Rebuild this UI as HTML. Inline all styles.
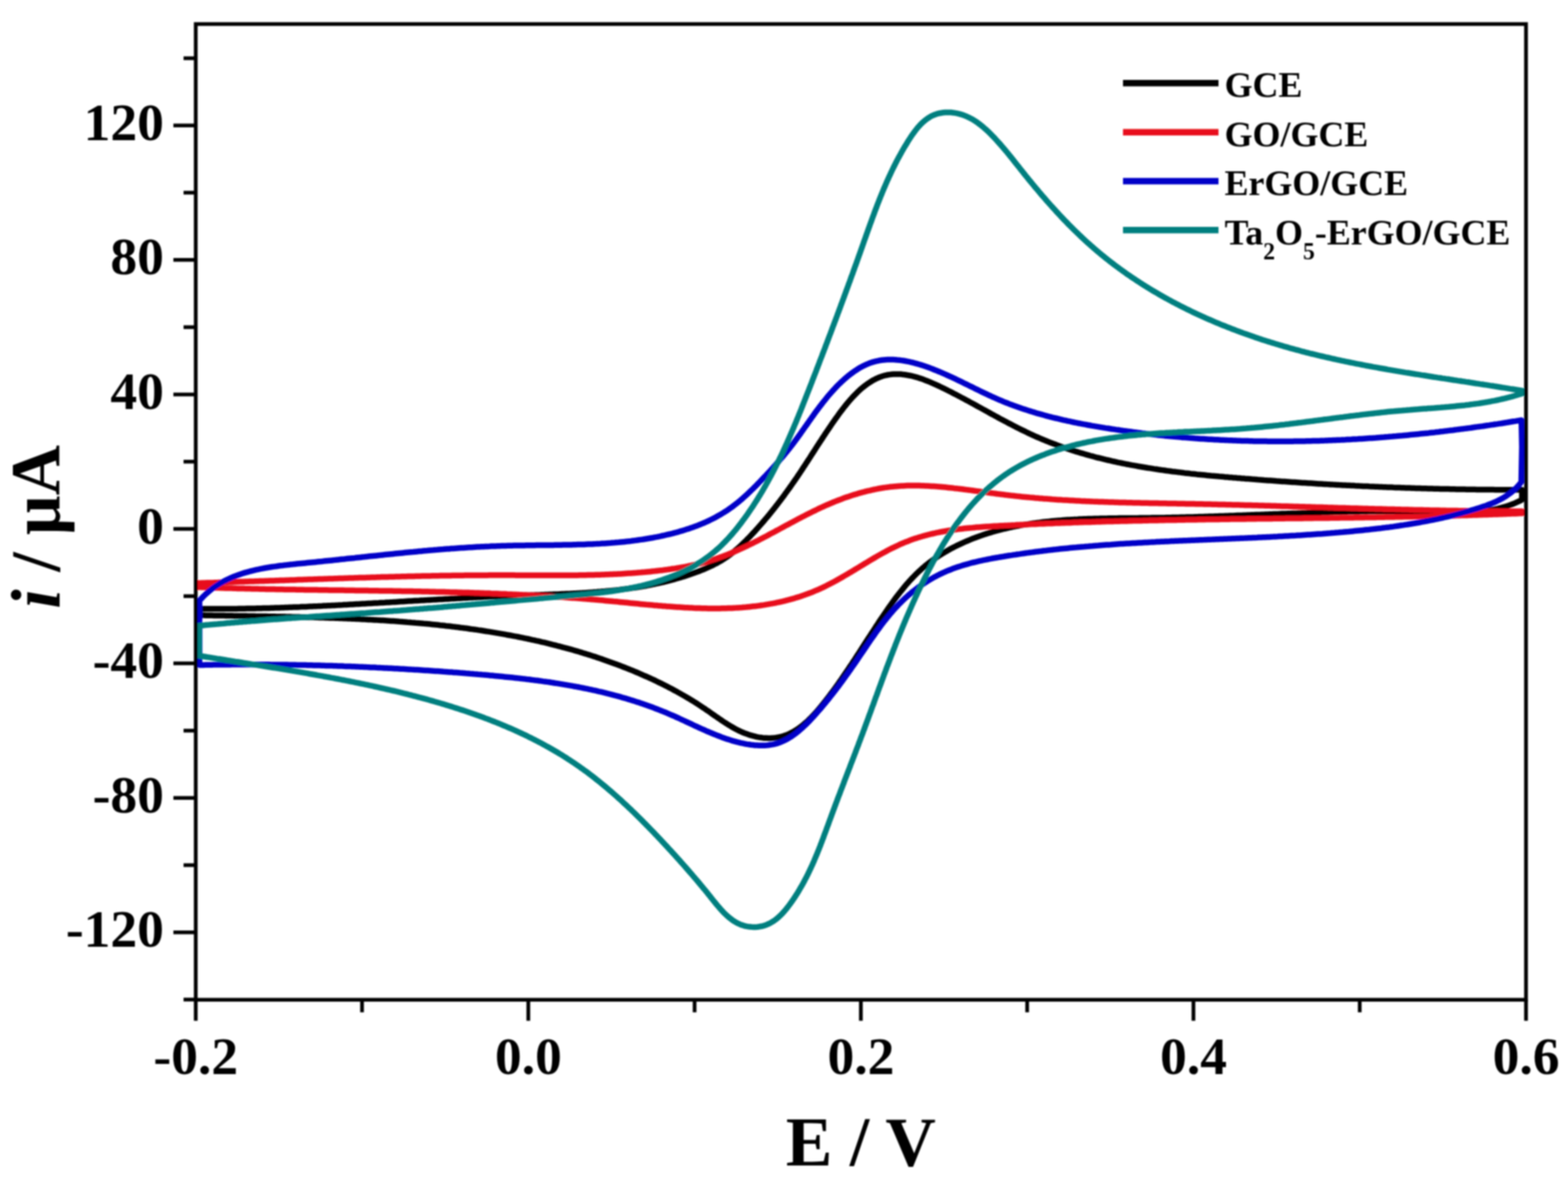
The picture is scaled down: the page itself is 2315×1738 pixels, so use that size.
<!DOCTYPE html>
<html><head><meta charset="utf-8"><title>CV plot</title>
<style>html,body{margin:0;padding:0;background:#fff;}body{width:2315px;height:1738px;overflow:hidden;}svg{display:block;}</style></head><body>
<svg width="2315" height="1738" viewBox="0 0 2315 1738">
<defs><filter id="bl" x="-2%%" y="-2%%" width="104%%" height="104%%"><feGaussianBlur stdDeviation="0.8"/></filter></defs>
<rect width="2315" height="1738" fill="#ffffff"/>
<g filter="url(#bl)">
<g fill="none" stroke-width="8.5" stroke-linejoin="round" stroke-linecap="round">
<path stroke="#000000" d="M295 908.5L295 899L298 899L301.1 899L304.1 899.1L307.1 899.1L310.1 899.1L313.2 899.1L316.2 899.1L319.2 899.1L322.2 899.1L325.3 899.1L328.3 899.1L331.3 899L334.3 899L337.3 899L340.4 899L343.4 898.9L346.4 898.9L349.4 898.9L352.4 898.8L355.4 898.8L358.4 898.7L361.4 898.7L364.5 898.6L367.5 898.6L370.5 898.5L373.5 898.5L376.5 898.4L379.5 898.3L382.5 898.3L385.5 898.2L388.5 898.1L391.5 898L394.5 897.9L397.5 897.9L400.5 897.8L403.5 897.7L406.5 897.6L409.5 897.5L412.5 897.4L415.5 897.3L418.5 897.2L421.5 897.1L424.5 897L427.5 896.8L430.5 896.7L433.5 896.6L436.5 896.5L439.5 896.4L442.5 896.3L445.5 896.1L448.5 896L451.5 895.9L454.5 895.7L457.5 895.6L460.5 895.5L463.4 895.3L466.4 895.2L469.4 895.1L472.4 894.9L475.4 894.8L478.4 894.6L481.4 894.5L484.4 894.3L487.4 894.2L490.4 894L493.3 893.9L496.3 893.7L499.3 893.6L502.3 893.4L505.3 893.3L508.3 893.1L511.3 893L514.3 892.8L517.3 892.6L520.2 892.5L523.2 892.3L526.2 892.1L529.2 892L532.2 891.8L535.2 891.6L538.2 891.5L541.2 891.3L544.1 891.1L547.1 891L550.1 890.8L553.1 890.6L556.1 890.4L559.1 890.3L562.1 890.1L565 889.9L568 889.8L571 889.6L574 889.4L577 889.2L580 889.1L583 888.9L586 888.7L589 888.5L591.9 888.3L594.9 888.2L597.9 888L600.9 887.8L603.9 887.6L606.9 887.5L609.9 887.3L612.9 887.1L615.9 886.9L618.9 886.8L621.9 886.6L624.8 886.4L627.8 886.2L630.8 886.1L633.8 885.9L636.8 885.7L639.8 885.6L642.8 885.4L645.8 885.2L648.8 885L651.8 884.9L654.8 884.7L657.8 884.5L660.8 884.4L663.8 884.2L666.8 884L669.8 883.9L672.8 883.7L675.8 883.6L678.8 883.4L681.8 883.2L684.8 883.1L687.8 882.9L690.8 882.8L693.8 882.6L696.8 882.5L699.8 882.3L702.8 882.2L705.8 882L708.8 881.9L711.8 881.7L714.8 881.6L717.8 881.4L720.9 881.3L723.9 881.1L726.9 881L729.9 880.9L732.9 880.7L735.9 880.6L738.9 880.5L742 880.3L745 880.2L748 880.1L751 880L754 879.9L757 879.7L760.1 879.6L763.1 879.5L766.1 879.4L769.1 879.3L772.2 879.2L775.2 879.1L778.2 879L781.2 878.9L784.3 878.8L787.3 878.7L790.3 878.6L793.4 878.5L796.4 878.4L799.4 878.3L802.4 878.2L805.5 878L808.5 877.9L811.5 877.8L814.6 877.7L817.6 877.6L820.6 877.5L823.6 877.4L826.7 877.2L829.7 877.1L832.7 877L835.7 876.8L838.8 876.7L841.8 876.6L844.8 876.4L847.8 876.2L850.9 876.1L853.9 875.9L856.9 875.7L859.9 875.6L862.9 875.4L865.9 875.2L868.9 875L872 874.8L875 874.6L878 874.3L881 874.1L884 873.8L887 873.6L890 873.3L893 873.1L896 872.8L898.9 872.5L901.9 872.2L904.9 871.9L907.9 871.6L910.9 871.2L913.9 870.9L916.8 870.5L919.8 870.1L922.8 869.8L925.7 869.4L928.7 869L931.7 868.5L934.6 868.1L937.6 867.7L940.5 867.2L943.5 866.7L946.4 866.2L949.3 865.7L952.3 865.2L955.2 864.7L958.1 864.1L961.1 863.5L964 862.9L966.9 862.3L969.8 861.7L972.7 861.1L975.6 860.4L978.5 859.8L981.4 859.1L984.3 858.4L987.2 857.6L990 856.9L992.9 856.1L995.8 855.3L998.6 854.5L1001.5 853.7L1004.4 852.8L1007.2 852L1010 851.1L1012.9 850.2L1015.7 849.3L1018.5 848.3L1021.4 847.3L1024.2 846.3L1027 845.3L1029.8 844.3L1032.6 843.2L1035.4 842.1L1038.2 841L1040.9 839.8L1043.7 838.6L1046.4 837.4L1049.1 836.2L1051.8 834.9L1054.4 833.5L1057.1 832.2L1059.7 830.7L1062.3 829.3L1064.9 827.8L1067.4 826.2L1069.9 824.6L1072.4 822.9L1074.8 821.2L1077.2 819.5L1079.6 817.7L1081.9 815.8L1084.2 814L1086.5 812L1088.8 810.1L1091 808.1L1093.2 806.1L1095.4 804L1097.6 801.9L1099.7 799.8L1101.9 797.7L1104 795.5L1106.1 793.4L1108.2 791.2L1110.2 789L1112.3 786.8L1114.4 784.6L1116.4 782.3L1118.4 780.1L1120.4 777.8L1122.4 775.5L1124.4 773.2L1126.4 770.9L1128.4 768.6L1130.3 766.3L1132.3 764L1134.2 761.7L1136.1 759.3L1138 757L1139.9 754.6L1141.8 752.3L1143.7 749.9L1145.5 747.5L1147.4 745.1L1149.2 742.7L1151.1 740.3L1152.9 737.9L1154.7 735.5L1156.5 733.1L1158.3 730.7L1160 728.2L1161.8 725.8L1163.5 723.4L1165.3 721L1167 718.5L1168.7 716.1L1170.4 713.6L1172.1 711.2L1173.8 708.8L1175.5 706.3L1177.2 703.9L1178.8 701.4L1180.5 699L1182.1 696.5L1183.7 694.1L1185.3 691.6L1186.9 689.2L1188.5 686.8L1190.1 684.3L1191.7 681.9L1193.3 679.4L1194.9 677L1196.5 674.5L1198 672.1L1199.6 669.6L1201.2 667.2L1202.8 664.7L1204.3 662.3L1205.9 659.8L1207.5 657.3L1209.1 654.9L1210.7 652.4L1212.4 649.9L1214 647.4L1215.6 644.9L1217.3 642.4L1218.9 639.9L1220.6 637.4L1222.3 634.9L1224 632.3L1225.7 629.8L1227.5 627.2L1229.2 624.7L1231 622.1L1232.8 619.6L1234.6 617L1236.5 614.4L1238.3 611.8L1240.2 609.2L1242.2 606.6L1244.1 604.1L1246.1 601.5L1248.1 599L1250.1 596.5L1252.2 594L1254.2 591.6L1256.4 589.2L1258.5 586.8L1260.7 584.5L1262.9 582.2L1265.2 579.9L1267.4 577.8L1269.7 575.6L1272.1 573.6L1274.5 571.6L1276.9 569.7L1279.4 567.8L1281.9 566.1L1284.4 564.4L1286.9 562.8L1289.5 561.3L1292.1 559.9L1294.8 558.6L1297.4 557.5L1300.1 556.4L1302.7 555.5L1305.4 554.7L1308.1 554.1L1310.8 553.5L1313.6 553.1L1316.3 552.7L1319.1 552.5L1321.8 552.4L1324.6 552.4L1327.4 552.5L1330.1 552.6L1332.9 552.9L1335.7 553.2L1338.5 553.7L1341.3 554.2L1344.1 554.7L1347 555.4L1349.8 556.1L1352.6 556.9L1355.4 557.7L1358.2 558.6L1361.1 559.6L1363.9 560.6L1366.7 561.7L1369.5 562.8L1372.3 563.9L1375.1 565.1L1377.9 566.3L1380.8 567.6L1383.6 568.9L1386.3 570.2L1389.1 571.5L1391.9 572.9L1394.7 574.2L1397.4 575.6L1400.2 577L1403 578.3L1405.7 579.7L1408.4 581.2L1411.1 582.6L1413.9 584L1416.6 585.4L1419.3 586.9L1422 588.3L1424.7 589.7L1427.4 591.2L1430.1 592.6L1432.7 594.1L1435.4 595.6L1438.1 597L1440.8 598.5L1443.4 600L1446.1 601.4L1448.7 602.9L1451.4 604.4L1454 605.8L1456.7 607.3L1459.4 608.7L1462 610.2L1464.6 611.7L1467.3 613.1L1469.9 614.6L1472.6 616L1475.2 617.5L1477.9 618.9L1480.5 620.3L1483.2 621.7L1485.8 623.1L1488.5 624.6L1491.1 625.9L1493.8 627.3L1496.5 628.7L1499.1 630.1L1501.8 631.4L1504.5 632.8L1507.1 634.1L1509.8 635.4L1512.5 636.7L1515.2 638L1517.9 639.3L1520.6 640.6L1523.3 641.8L1526 643.1L1528.7 644.3L1531.4 645.5L1534.1 646.7L1536.9 647.9L1539.6 649L1542.4 650.2L1545.1 651.3L1547.9 652.4L1550.6 653.5L1553.4 654.5L1556.2 655.6L1559 656.6L1561.8 657.7L1564.5 658.7L1567.3 659.7L1570.2 660.7L1573 661.6L1575.8 662.6L1578.6 663.5L1581.4 664.5L1584.3 665.4L1587.1 666.3L1589.9 667.1L1592.8 668L1595.6 668.9L1598.5 669.7L1601.4 670.5L1604.2 671.4L1607.1 672.2L1610 673L1612.8 673.7L1615.7 674.5L1618.6 675.3L1621.5 676L1624.4 676.7L1627.3 677.4L1630.2 678.1L1633.1 678.8L1636 679.5L1639 680.2L1641.9 680.9L1644.8 681.5L1647.7 682.1L1650.7 682.8L1653.6 683.4L1656.5 684L1659.5 684.6L1662.4 685.2L1665.4 685.7L1668.3 686.3L1671.3 686.9L1674.2 687.4L1677.2 687.9L1680.2 688.5L1683.1 689L1686.1 689.5L1689.1 690L1692 690.5L1695 691L1698 691.4L1701 691.9L1703.9 692.4L1706.9 692.8L1709.9 693.3L1712.9 693.7L1715.9 694.1L1718.9 694.5L1721.9 695L1724.9 695.4L1727.9 695.8L1730.9 696.2L1733.9 696.5L1736.9 696.9L1739.9 697.3L1742.9 697.6L1745.9 698L1748.9 698.4L1751.9 698.7L1754.9 699L1757.9 699.4L1760.9 699.7L1764 700L1767 700.4L1770 700.7L1773 701L1776 701.3L1779 701.6L1782 701.9L1785.1 702.2L1788.1 702.5L1791.1 702.7L1794.1 703L1797.1 703.3L1800.1 703.6L1803.2 703.8L1806.2 704.1L1809.2 704.4L1812.2 704.6L1815.2 704.9L1818.2 705.1L1821.2 705.4L1824.3 705.6L1827.3 705.9L1830.3 706.1L1833.3 706.4L1836.3 706.6L1839.3 706.9L1842.3 707.1L1845.3 707.3L1848.3 707.6L1851.3 707.8L1854.3 708L1857.3 708.3L1860.3 708.5L1863.4 708.7L1866.4 709L1869.4 709.2L1872.4 709.4L1875.3 709.6L1878.3 709.8L1881.3 710L1884.3 710.3L1887.3 710.5L1890.3 710.7L1893.3 710.9L1896.3 711.1L1899.3 711.3L1902.3 711.5L1905.3 711.7L1908.3 711.9L1911.3 712.1L1914.3 712.3L1917.3 712.5L1920.2 712.7L1923.2 712.9L1926.2 713.1L1929.2 713.3L1932.2 713.5L1935.2 713.6L1938.2 713.8L1941.1 714L1944.1 714.2L1947.1 714.4L1950.1 714.5L1953.1 714.7L1956.1 714.9L1959.1 715.1L1962 715.2L1965 715.4L1968 715.6L1971 715.7L1974 715.9L1977 716.1L1979.9 716.2L1982.9 716.4L1985.9 716.5L1988.9 716.7L1991.9 716.8L1994.8 717L1997.8 717.1L2000.8 717.3L2003.8 717.4L2006.8 717.6L2009.8 717.7L2012.7 717.9L2015.7 718L2018.7 718.1L2021.7 718.3L2024.7 718.4L2027.6 718.5L2030.6 718.7L2033.6 718.8L2036.6 718.9L2039.6 719L2042.6 719.2L2045.5 719.3L2048.5 719.4L2051.5 719.5L2054.5 719.6L2057.5 719.8L2060.5 719.9L2063.5 720L2066.4 720.1L2069.4 720.2L2072.4 720.3L2075.4 720.4L2078.4 720.5L2081.4 720.6L2084.4 720.7L2087.4 720.8L2090.3 720.9L2093.3 721L2096.3 721.1L2099.3 721.2L2102.3 721.2L2105.3 721.3L2108.3 721.4L2111.3 721.5L2114.3 721.6L2117.3 721.7L2120.3 721.7L2123.3 721.8L2126.3 721.9L2129.3 721.9L2132.3 722L2135.3 722.1L2138.3 722.1L2141.3 722.2L2144.3 722.3L2147.3 722.3L2150.3 722.4L2153.3 722.5L2156.3 722.5L2159.3 722.6L2162.3 722.6L2165.3 722.7L2168.3 722.7L2171.3 722.8L2174.3 722.8L2177.4 722.8L2180.4 722.9L2183.4 722.9L2186.4 723L2189.4 723L2192.4 723L2195.5 723.1L2198.5 723.1L2201.5 723.1L2204.5 723.1L2207.6 723.2L2210.6 723.2L2213.6 723.2L2216.6 723.2L2219.7 723.2L2222.7 723.2L2225.7 723.3L2228.8 723.3L2231.8 723.3L2234.8 723.3L2237.9 723.3L2240.9 723.3L2244 723.3L2247 723.3L2247 738L2244.3 739.4L2241.6 740.7L2238.9 741.9L2236.2 743.1L2233.5 744.2L2230.7 745.3L2227.9 746.3L2225.1 747.2L2222.3 748.1L2219.5 748.9L2216.7 749.7L2213.8 750.4L2210.9 751.1L2208.1 751.7L2205.2 752.3L2202.3 752.8L2199.4 753.3L2196.4 753.8L2193.5 754.2L2190.5 754.5L2187.6 754.9L2184.6 755.2L2181.6 755.4L2178.7 755.6L2175.7 755.8L2172.7 756L2169.7 756.1L2166.6 756.2L2163.6 756.3L2160.6 756.4L2157.6 756.4L2154.5 756.5L2151.5 756.5L2148.4 756.5L2145.4 756.4L2142.3 756.4L2139.3 756.4L2136.2 756.3L2133.2 756.2L2130.1 756.2L2127 756.1L2124 756L2120.9 755.9L2117.9 755.8L2114.8 755.7L2111.8 755.7L2108.7 755.6L2105.6 755.5L2102.6 755.5L2099.6 755.4L2096.5 755.3L2093.5 755.3L2090.4 755.2L2087.4 755.2L2084.3 755.1L2081.3 755.1L2078.3 755.1L2075.2 755L2072.2 755L2069.2 755L2066.2 755L2063.1 755L2060.1 755L2057.1 755L2054.1 754.9L2051 755L2048 755L2045 755L2042 755L2039 755L2036 755L2033 755L2030 755.1L2027 755.1L2023.9 755.1L2020.9 755.1L2017.9 755.2L2014.9 755.2L2011.9 755.3L2008.9 755.3L2005.9 755.4L2002.9 755.4L1999.9 755.5L1996.9 755.5L1994 755.6L1991 755.6L1988 755.7L1985 755.8L1982 755.8L1979 755.9L1976 756L1973 756L1970 756.1L1967 756.2L1964.1 756.3L1961.1 756.4L1958.1 756.4L1955.1 756.5L1952.1 756.6L1949.1 756.7L1946.2 756.8L1943.2 756.9L1940.2 757L1937.2 757.1L1934.2 757.2L1931.3 757.3L1928.3 757.4L1925.3 757.5L1922.3 757.6L1919.3 757.7L1916.4 757.8L1913.4 757.9L1910.4 758L1907.4 758.1L1904.5 758.2L1901.5 758.3L1898.5 758.4L1895.5 758.5L1892.6 758.6L1889.6 758.7L1886.6 758.9L1883.6 759L1880.7 759.1L1877.7 759.2L1874.7 759.3L1871.7 759.4L1868.7 759.5L1865.8 759.7L1862.8 759.8L1859.8 759.9L1856.8 760L1853.9 760.1L1850.9 760.2L1847.9 760.3L1844.9 760.5L1841.9 760.6L1839 760.7L1836 760.8L1833 760.9L1830 761L1827 761.1L1824 761.2L1821.1 761.4L1818.1 761.5L1815.1 761.6L1812.1 761.7L1809.1 761.8L1806.1 761.9L1803.1 762L1800.1 762.1L1797.2 762.2L1794.2 762.3L1791.2 762.4L1788.2 762.5L1785.2 762.6L1782.2 762.7L1779.2 762.8L1776.2 762.9L1773.2 763L1770.2 763.1L1767.2 763.2L1764.2 763.3L1761.2 763.4L1758.2 763.4L1755.2 763.5L1752.2 763.6L1749.2 763.7L1746.1 763.8L1743.1 763.8L1740.1 763.9L1737.1 764L1734.1 764L1731.1 764.1L1728.1 764.2L1725 764.2L1722 764.3L1719 764.4L1716 764.4L1712.9 764.5L1709.9 764.5L1706.9 764.6L1703.8 764.6L1700.8 764.6L1697.8 764.7L1694.7 764.7L1691.7 764.7L1688.6 764.8L1685.6 764.8L1682.6 764.8L1679.5 764.9L1676.5 764.9L1673.4 764.9L1670.4 764.9L1667.3 765L1664.3 765L1661.2 765L1658.2 765.1L1655.1 765.1L1652.1 765.1L1649 765.2L1646 765.2L1642.9 765.2L1639.9 765.3L1636.8 765.3L1633.8 765.4L1630.7 765.5L1627.7 765.5L1624.6 765.6L1621.6 765.7L1618.5 765.7L1615.5 765.8L1612.4 765.9L1609.4 766L1606.4 766.1L1603.3 766.2L1600.3 766.3L1597.2 766.5L1594.2 766.6L1591.2 766.8L1588.1 766.9L1585.1 767.1L1582.1 767.2L1579.1 767.4L1576.1 767.6L1573 767.8L1570 768L1567 768.3L1564 768.5L1561 768.7L1558 769L1555 769.3L1552 769.6L1549 769.9L1546 770.2L1543 770.5L1540.1 770.8L1537.1 771.2L1534.1 771.6L1531.1 772L1528.2 772.4L1525.2 772.8L1522.3 773.2L1519.3 773.7L1516.4 774.1L1513.4 774.6L1510.5 775.1L1507.6 775.6L1504.6 776.2L1501.7 776.7L1498.8 777.3L1495.9 777.9L1493 778.5L1490.1 779.1L1487.2 779.8L1484.3 780.5L1481.4 781.2L1478.6 781.9L1475.7 782.6L1472.8 783.4L1470 784.1L1467.1 784.9L1464.3 785.8L1461.5 786.6L1458.6 787.5L1455.8 788.4L1453 789.3L1450.2 790.3L1447.4 791.2L1444.6 792.2L1441.8 793.2L1439.1 794.3L1436.3 795.3L1433.6 796.4L1430.8 797.6L1428.1 798.7L1425.3 799.9L1422.6 801.1L1419.9 802.3L1417.2 803.6L1414.5 804.9L1411.8 806.2L1409.1 807.6L1406.5 808.9L1403.8 810.3L1401.2 811.8L1398.6 813.2L1396 814.7L1393.4 816.3L1390.8 817.8L1388.3 819.4L1385.8 821L1383.3 822.7L1380.8 824.4L1378.3 826.1L1375.9 827.9L1373.5 829.7L1371.1 831.5L1368.8 833.3L1366.4 835.2L1364.1 837.2L1361.8 839.1L1359.6 841.1L1357.4 843.2L1355.2 845.2L1353 847.3L1350.9 849.4L1348.8 851.6L1346.7 853.8L1344.6 856L1342.6 858.2L1340.6 860.5L1338.6 862.7L1336.6 865L1334.7 867.4L1332.8 869.7L1330.9 872.1L1329 874.4L1327.1 876.8L1325.3 879.2L1323.4 881.6L1321.6 884.1L1319.8 886.5L1318 889L1316.3 891.4L1314.5 893.9L1312.8 896.4L1311 898.8L1309.3 901.3L1307.6 903.8L1305.9 906.3L1304.2 908.8L1302.5 911.3L1300.9 913.7L1299.2 916.2L1297.5 918.7L1295.9 921.2L1294.3 923.7L1292.6 926.2L1291 928.7L1289.4 931.2L1287.8 933.7L1286.1 936.2L1284.5 938.7L1282.9 941.1L1281.3 943.6L1279.7 946.1L1278.1 948.6L1276.5 951.1L1274.9 953.6L1273.3 956.1L1271.7 958.6L1270.1 961.1L1268.5 963.6L1266.8 966.1L1265.2 968.6L1263.6 971.1L1262 973.6L1260.3 976.1L1258.7 978.6L1257.1 981L1255.4 983.5L1253.7 986L1252.1 988.5L1250.4 991L1248.7 993.5L1247 996L1245.3 998.5L1243.6 1001L1241.9 1003.5L1240.1 1005.9L1238.4 1008.4L1236.6 1010.9L1234.8 1013.4L1233 1015.9L1231.2 1018.4L1229.4 1020.9L1227.5 1023.3L1225.7 1025.8L1223.8 1028.3L1221.9 1030.8L1220 1033.2L1218.1 1035.7L1216.1 1038.2L1214.1 1040.6L1212.2 1043.1L1210.1 1045.5L1208.1 1047.9L1206.1 1050.3L1204 1052.6L1201.9 1054.9L1199.7 1057.2L1197.6 1059.4L1195.4 1061.6L1193.2 1063.8L1191 1065.8L1188.7 1067.8L1186.4 1069.8L1184.1 1071.7L1181.8 1073.5L1179.4 1075.2L1177 1076.9L1174.6 1078.5L1172.1 1080L1169.6 1081.3L1167.1 1082.6L1164.6 1083.8L1162 1084.9L1159.4 1085.9L1156.7 1086.8L1154 1087.6L1151.3 1088.2L1148.6 1088.8L1145.8 1089.2L1143 1089.5L1140.2 1089.7L1137.4 1089.9L1134.6 1089.9L1131.7 1089.8L1128.9 1089.7L1126 1089.4L1123.1 1089L1120.3 1088.6L1117.4 1088.1L1114.6 1087.4L1111.8 1086.7L1108.9 1085.9L1106.1 1085.1L1103.3 1084.1L1100.5 1083.1L1097.8 1082L1095.1 1080.8L1092.4 1079.6L1089.7 1078.3L1087 1076.9L1084.3 1075.5L1081.7 1074L1079.1 1072.5L1076.5 1070.9L1073.9 1069.3L1071.3 1067.6L1068.7 1066L1066.1 1064.3L1063.6 1062.5L1061 1060.8L1058.5 1059L1055.9 1057.3L1053.4 1055.5L1050.8 1053.7L1048.3 1051.9L1045.7 1050.1L1043.2 1048.4L1040.6 1046.6L1038.1 1044.9L1035.5 1043.2L1032.9 1041.5L1030.3 1039.8L1027.8 1038.2L1025.2 1036.5L1022.6 1034.9L1020 1033.3L1017.3 1031.7L1014.7 1030.2L1012.1 1028.6L1009.5 1027.1L1006.8 1025.6L1004.2 1024.1L1001.5 1022.6L998.9 1021.1L996.2 1019.7L993.6 1018.2L990.9 1016.8L988.2 1015.4L985.6 1014L982.9 1012.7L980.2 1011.3L977.5 1009.9L974.8 1008.6L972.1 1007.3L969.4 1006L966.7 1004.7L964 1003.4L961.2 1002.2L958.5 1000.9L955.8 999.7L953.1 998.5L950.3 997.3L947.6 996.1L944.8 994.9L942.1 993.7L939.3 992.5L936.6 991.4L933.8 990.2L931.1 989.1L928.3 988L925.5 986.9L922.7 985.8L920 984.7L917.2 983.6L914.4 982.5L911.6 981.5L908.8 980.4L906 979.4L903.2 978.4L900.4 977.4L897.6 976.4L894.8 975.4L892 974.4L889.2 973.4L886.4 972.5L883.5 971.5L880.7 970.6L877.9 969.6L875.1 968.7L872.2 967.8L869.4 966.9L866.5 966L863.7 965.1L860.9 964.3L858 963.4L855.2 962.5L852.3 961.7L849.4 960.9L846.6 960L843.7 959.2L840.8 958.4L838 957.6L835.1 956.8L832.2 956.1L829.3 955.3L826.5 954.5L823.6 953.8L820.7 953L817.8 952.3L814.9 951.6L812 950.8L809.1 950.1L806.2 949.4L803.3 948.7L800.4 948.1L797.5 947.4L794.6 946.7L791.7 946.1L788.8 945.4L785.9 944.8L782.9 944.1L780 943.5L777.1 942.9L774.2 942.3L771.2 941.7L768.3 941.1L765.4 940.5L762.5 939.9L759.5 939.4L756.6 938.8L753.6 938.2L750.7 937.7L747.7 937.2L744.8 936.6L741.9 936.1L738.9 935.6L736 935.1L733 934.6L730 934.1L727.1 933.6L724.1 933.1L721.2 932.6L718.2 932.2L715.2 931.7L712.3 931.2L709.3 930.8L706.3 930.4L703.4 929.9L700.4 929.5L697.4 929.1L694.4 928.7L691.5 928.2L688.5 927.8L685.5 927.4L682.5 927.1L679.5 926.7L676.5 926.3L673.6 925.9L670.6 925.6L667.6 925.2L664.6 924.8L661.6 924.5L658.6 924.2L655.6 923.8L652.6 923.5L649.6 923.2L646.6 922.8L643.6 922.5L640.6 922.2L637.6 921.9L634.6 921.6L631.6 921.3L628.6 921L625.6 920.8L622.6 920.5L619.6 920.2L616.6 919.9L613.6 919.7L610.6 919.4L607.6 919.2L604.5 918.9L601.5 918.7L598.5 918.4L595.5 918.2L592.5 918L589.5 917.8L586.5 917.5L583.4 917.3L580.4 917.1L577.4 916.9L574.4 916.7L571.4 916.5L568.4 916.3L565.3 916.1L562.3 915.9L559.3 915.7L556.3 915.6L553.3 915.4L550.2 915.2L547.2 915.1L544.2 914.9L541.2 914.7L538.2 914.6L535.1 914.4L532.1 914.3L529.1 914.1L526.1 914L523 913.8L520 913.7L517 913.6L514 913.4L510.9 913.3L507.9 913.2L504.9 913.1L501.9 913L498.9 912.8L495.8 912.7L492.8 912.6L489.8 912.5L486.8 912.4L483.7 912.3L480.7 912.2L477.7 912.1L474.7 912L471.7 911.9L468.6 911.8L465.6 911.7L462.6 911.6L459.6 911.6L456.6 911.5L453.6 911.4L450.5 911.3L447.5 911.2L444.5 911.2L441.5 911.1L438.5 911L435.5 911L432.4 910.9L429.4 910.8L426.4 910.8L423.4 910.7L420.4 910.6L417.4 910.6L414.4 910.5L411.4 910.5L408.4 910.4L405.4 910.3L402.4 910.3L399.3 910.2L396.3 910.2L393.3 910.1L390.3 910.1L387.3 910L384.3 910L381.3 909.9L378.3 909.9L375.4 909.8L372.4 909.8L369.4 909.7L366.4 909.7L363.4 909.6L360.4 909.6L357.4 909.5L354.4 909.5L351.4 909.4L348.4 909.4L345.5 909.4L342.5 909.3L339.5 909.3L336.5 909.2L333.5 909.2L330.6 909.1L327.6 909.1L324.6 909L321.7 909L318.7 908.9L315.7 908.9L312.8 908.8L309.8 908.8L306.8 908.7L303.9 908.7L300.9 908.6L298 908.6L295 908.5Z"/>
<path stroke="#e8101a" d="M293 867L293 861L296 860.9L299 860.8L302.1 860.7L305.1 860.6L308.1 860.6L311.1 860.5L314.1 860.4L317.1 860.3L320.2 860.2L323.2 860.1L326.2 860L329.2 859.9L332.2 859.8L335.2 859.7L338.2 859.6L341.3 859.5L344.3 859.4L347.3 859.3L350.3 859.2L353.3 859.1L356.3 859L359.3 858.9L362.3 858.8L365.3 858.7L368.3 858.6L371.3 858.5L374.4 858.4L377.4 858.3L380.4 858.2L383.4 858.1L386.4 858L389.4 857.9L392.4 857.8L395.4 857.7L398.4 857.6L401.4 857.5L404.4 857.4L407.4 857.3L410.4 857.2L413.4 857.1L416.4 857L419.4 856.9L422.4 856.8L425.4 856.7L428.4 856.6L431.4 856.5L434.4 856.4L437.4 856.2L440.4 856.1L443.4 856L446.4 855.9L449.4 855.8L452.4 855.7L455.4 855.6L458.4 855.5L461.4 855.4L464.4 855.3L467.4 855.2L470.4 855.1L473.3 855L476.3 854.9L479.3 854.8L482.3 854.7L485.3 854.6L488.3 854.5L491.3 854.4L494.3 854.3L497.3 854.2L500.3 854.1L503.3 854L506.3 853.9L509.3 853.8L512.3 853.7L515.3 853.6L518.3 853.5L521.3 853.4L524.3 853.3L527.3 853.2L530.3 853.1L533.3 853L536.2 852.9L539.2 852.9L542.2 852.8L545.2 852.7L548.2 852.6L551.2 852.5L554.2 852.4L557.2 852.3L560.2 852.2L563.2 852.1L566.2 852.1L569.2 852L572.2 851.9L575.2 851.8L578.2 851.7L581.2 851.7L584.2 851.6L587.2 851.5L590.2 851.4L593.2 851.3L596.2 851.3L599.2 851.2L602.2 851.1L605.2 851.1L608.2 851L611.2 850.9L614.2 850.8L617.2 850.8L620.2 850.7L623.2 850.6L626.2 850.6L629.2 850.5L632.2 850.5L635.2 850.4L638.2 850.3L641.2 850.3L644.2 850.2L647.2 850.2L650.2 850.1L653.2 850.1L656.2 850L659.2 850L662.2 849.9L665.2 849.9L668.2 849.8L671.2 849.8L674.2 849.8L677.2 849.7L680.3 849.7L683.3 849.7L686.3 849.6L689.3 849.6L692.3 849.6L695.3 849.5L698.3 849.5L701.3 849.5L704.3 849.5L707.4 849.4L710.4 849.4L713.4 849.4L716.4 849.4L719.4 849.4L722.4 849.3L725.5 849.3L728.5 849.3L731.5 849.3L734.5 849.3L737.5 849.3L740.6 849.3L743.6 849.3L746.6 849.3L749.6 849.3L752.6 849.3L755.7 849.3L758.7 849.3L761.7 849.4L764.7 849.4L767.8 849.4L770.8 849.4L773.8 849.4L776.9 849.4L779.9 849.4L782.9 849.4L785.9 849.5L789 849.5L792 849.5L795 849.5L798.1 849.5L801.1 849.5L804.1 849.5L807.1 849.5L810.2 849.5L813.2 849.6L816.2 849.6L819.3 849.6L822.3 849.6L825.3 849.5L828.4 849.5L831.4 849.5L834.4 849.5L837.4 849.5L840.5 849.5L843.5 849.5L846.5 849.4L849.5 849.4L852.6 849.4L855.6 849.3L858.6 849.3L861.6 849.2L864.7 849.2L867.7 849.1L870.7 849.1L873.7 849L876.8 848.9L879.8 848.8L882.8 848.7L885.8 848.7L888.8 848.6L891.8 848.5L894.9 848.3L897.9 848.2L900.9 848.1L903.9 848L906.9 847.8L909.9 847.7L912.9 847.5L915.9 847.4L918.9 847.2L921.9 847L925 846.8L928 846.6L931 846.4L934 846.2L937 846L939.9 845.8L942.9 845.5L945.9 845.3L948.9 845L951.9 844.8L954.9 844.5L957.9 844.2L960.9 843.9L963.9 843.6L966.8 843.3L969.8 842.9L972.8 842.6L975.8 842.2L978.7 841.9L981.7 841.5L984.7 841.1L987.6 840.7L990.6 840.3L993.6 839.8L996.5 839.4L999.5 838.9L1002.4 838.4L1005.4 837.9L1008.3 837.4L1011.2 836.9L1014.2 836.3L1017.1 835.7L1020 835.1L1022.9 834.5L1025.8 833.9L1028.7 833.2L1031.6 832.5L1034.5 831.8L1037.4 831L1040.2 830.3L1043.1 829.5L1045.9 828.6L1048.8 827.8L1051.6 826.9L1054.4 826L1057.3 825.1L1060.1 824.1L1062.9 823.1L1065.7 822.1L1068.5 821L1071.2 820L1074 818.9L1076.8 817.8L1079.5 816.6L1082.3 815.5L1085 814.3L1087.8 813.1L1090.5 811.9L1093.2 810.7L1096 809.4L1098.7 808.1L1101.4 806.9L1104.1 805.6L1106.8 804.2L1109.5 802.9L1112.2 801.6L1114.9 800.2L1117.6 798.9L1120.3 797.5L1123 796.1L1125.6 794.7L1128.3 793.3L1131 791.9L1133.7 790.5L1136.3 789L1139 787.6L1141.7 786.2L1144.4 784.8L1147 783.3L1149.7 781.9L1152.4 780.4L1155 779L1157.7 777.5L1160.4 776.1L1163 774.7L1165.7 773.2L1168.4 771.8L1171 770.4L1173.7 768.9L1176.4 767.5L1179.1 766.1L1181.7 764.7L1184.4 763.3L1187.1 761.9L1189.8 760.5L1192.5 759.2L1195.2 757.8L1197.9 756.5L1200.6 755.1L1203.3 753.8L1206 752.5L1208.7 751.2L1211.4 749.9L1214.2 748.7L1216.9 747.4L1219.6 746.2L1222.4 745L1225.1 743.8L1227.9 742.7L1230.6 741.5L1233.4 740.4L1236.2 739.3L1238.9 738.2L1241.7 737.2L1244.5 736.1L1247.3 735.1L1250.1 734.1L1252.9 733.2L1255.7 732.2L1258.5 731.3L1261.4 730.4L1264.2 729.6L1267 728.7L1269.9 727.9L1272.7 727.1L1275.6 726.4L1278.4 725.6L1281.3 724.9L1284.2 724.3L1287 723.6L1289.9 723L1292.8 722.4L1295.7 721.8L1298.6 721.3L1301.5 720.8L1304.4 720.3L1307.3 719.9L1310.2 719.5L1313.1 719.1L1316.1 718.8L1319 718.5L1321.9 718.2L1324.8 717.9L1327.8 717.7L1330.7 717.5L1333.7 717.4L1336.6 717.2L1339.6 717.1L1342.6 717.1L1345.5 717L1348.5 717L1351.5 717L1354.4 717L1357.4 717.1L1360.4 717.2L1363.4 717.3L1366.4 717.4L1369.4 717.5L1372.4 717.7L1375.4 717.9L1378.4 718.1L1381.4 718.3L1384.4 718.5L1387.4 718.7L1390.4 719L1393.4 719.3L1396.4 719.6L1399.4 719.9L1402.4 720.2L1405.5 720.5L1408.5 720.9L1411.5 721.2L1414.5 721.6L1417.5 721.9L1420.6 722.3L1423.6 722.7L1426.6 723.1L1429.7 723.5L1432.7 723.9L1435.7 724.3L1438.7 724.7L1441.8 725.1L1444.8 725.5L1447.8 725.9L1450.9 726.3L1453.9 726.7L1456.9 727.1L1459.9 727.6L1463 728L1466 728.4L1469 728.8L1472.1 729.2L1475.1 729.6L1478.1 729.9L1481.1 730.3L1484.2 730.7L1487.2 731.1L1490.2 731.4L1493.2 731.8L1496.3 732.1L1499.3 732.4L1502.3 732.8L1505.3 733.1L1508.3 733.4L1511.3 733.7L1514.3 734L1517.4 734.3L1520.4 734.6L1523.4 734.8L1526.4 735.1L1529.4 735.4L1532.4 735.6L1535.4 735.9L1538.4 736.1L1541.4 736.4L1544.4 736.6L1547.4 736.8L1550.4 737L1553.4 737.3L1556.4 737.5L1559.4 737.7L1562.5 737.9L1565.5 738.1L1568.4 738.3L1571.4 738.4L1574.4 738.6L1577.4 738.8L1580.4 739L1583.4 739.1L1586.4 739.3L1589.4 739.5L1592.4 739.6L1595.4 739.8L1598.4 739.9L1601.4 740L1604.4 740.2L1607.4 740.3L1610.4 740.4L1613.4 740.6L1616.4 740.7L1619.4 740.8L1622.4 740.9L1625.3 741L1628.3 741.1L1631.3 741.2L1634.3 741.3L1637.3 741.4L1640.3 741.5L1643.3 741.6L1646.3 741.7L1649.3 741.8L1652.2 741.9L1655.2 742L1658.2 742L1661.2 742.1L1664.2 742.2L1667.2 742.3L1670.2 742.3L1673.2 742.4L1676.2 742.5L1679.1 742.5L1682.1 742.6L1685.1 742.7L1688.1 742.7L1691.1 742.8L1694.1 742.8L1697.1 742.9L1700.1 743L1703 743L1706 743.1L1709 743.1L1712 743.2L1715 743.2L1718 743.3L1721 743.3L1724 743.4L1727 743.4L1730 743.5L1732.9 743.5L1735.9 743.6L1738.9 743.7L1741.9 743.7L1744.9 743.8L1747.9 743.8L1750.9 743.9L1753.9 743.9L1756.9 744L1759.9 744L1762.9 744.1L1765.9 744.2L1768.9 744.2L1771.9 744.3L1774.9 744.3L1777.9 744.4L1780.9 744.5L1783.9 744.5L1786.9 744.6L1789.9 744.7L1792.9 744.7L1795.9 744.8L1798.9 744.9L1801.9 745L1804.9 745L1807.9 745.1L1810.9 745.2L1813.9 745.2L1816.9 745.3L1819.9 745.4L1822.9 745.5L1825.9 745.5L1828.9 745.6L1831.9 745.7L1834.9 745.8L1837.9 745.9L1840.9 745.9L1843.9 746L1846.9 746.1L1849.9 746.2L1852.9 746.3L1856 746.3L1859 746.4L1862 746.5L1865 746.6L1868 746.7L1871 746.8L1874 746.8L1877 746.9L1880 747L1883 747.1L1886 747.2L1889.1 747.3L1892.1 747.4L1895.1 747.5L1898.1 747.5L1901.1 747.6L1904.1 747.7L1907.1 747.8L1910.1 747.9L1913.1 748L1916.2 748.1L1919.2 748.2L1922.2 748.2L1925.2 748.3L1928.2 748.4L1931.2 748.5L1934.2 748.6L1937.2 748.7L1940.3 748.8L1943.3 748.9L1946.3 749L1949.3 749.1L1952.3 749.1L1955.3 749.2L1958.3 749.3L1961.4 749.4L1964.4 749.5L1967.4 749.6L1970.4 749.7L1973.4 749.8L1976.4 749.9L1979.4 749.9L1982.5 750L1985.5 750.1L1988.5 750.2L1991.5 750.3L1994.5 750.4L1997.5 750.5L2000.5 750.6L2003.6 750.6L2006.6 750.7L2009.6 750.8L2012.6 750.9L2015.6 751L2018.6 751.1L2021.6 751.2L2024.6 751.2L2027.7 751.3L2030.7 751.4L2033.7 751.5L2036.7 751.6L2039.7 751.6L2042.7 751.7L2045.7 751.8L2048.8 751.9L2051.8 752L2054.8 752L2057.8 752.1L2060.8 752.2L2063.8 752.3L2066.8 752.3L2069.8 752.4L2072.9 752.5L2075.9 752.6L2078.9 752.6L2081.9 752.7L2084.9 752.8L2087.9 752.9L2090.9 752.9L2093.9 753L2096.9 753.1L2099.9 753.1L2103 753.2L2106 753.3L2109 753.3L2112 753.4L2115 753.5L2118 753.5L2121 753.6L2124 753.6L2127 753.7L2130 753.7L2133 753.8L2136 753.9L2139.1 753.9L2142.1 754L2145.1 754L2148.1 754.1L2151.1 754.1L2154.1 754.2L2157.1 754.2L2160.1 754.3L2163.1 754.3L2166.1 754.4L2169.1 754.4L2172.1 754.4L2175.1 754.5L2178.1 754.5L2181.1 754.6L2184.1 754.6L2187.1 754.6L2190.1 754.7L2193.1 754.7L2196.1 754.7L2199.1 754.7L2202.1 754.8L2205.1 754.8L2208.1 754.8L2211.1 754.8L2214.1 754.9L2217.1 754.9L2220.1 754.9L2223.1 754.9L2226.1 754.9L2229.1 755L2232 755L2235 755L2238 755L2241 755L2244 755L2247 755L2247 758L2244 758.1L2241 758.2L2238 758.4L2235 758.5L2232 758.6L2229 758.7L2226 758.8L2223 759L2220 759.1L2217 759.2L2214 759.3L2211 759.4L2208 759.5L2205 759.6L2202 759.7L2199 759.8L2196 759.9L2193 760L2190 760.1L2187 760.2L2184 760.3L2181 760.4L2178 760.5L2175 760.6L2172 760.7L2169 760.8L2166 760.9L2163 761L2160 761L2157 761.1L2154 761.2L2151 761.3L2148 761.4L2144.9 761.5L2141.9 761.5L2138.9 761.6L2135.9 761.7L2132.9 761.8L2129.9 761.9L2126.9 761.9L2123.9 762L2120.9 762.1L2117.9 762.1L2114.9 762.2L2111.9 762.3L2108.9 762.4L2105.9 762.4L2102.9 762.5L2099.9 762.6L2096.9 762.6L2093.9 762.7L2090.9 762.8L2087.9 762.8L2084.9 762.9L2081.9 762.9L2078.9 763L2075.9 763.1L2072.9 763.1L2069.9 763.2L2066.8 763.2L2063.8 763.3L2060.8 763.3L2057.8 763.4L2054.8 763.5L2051.8 763.5L2048.8 763.6L2045.8 763.6L2042.8 763.7L2039.8 763.7L2036.8 763.8L2033.8 763.8L2030.8 763.9L2027.8 763.9L2024.8 764L2021.8 764L2018.8 764.1L2015.8 764.1L2012.8 764.2L2009.7 764.2L2006.7 764.2L2003.7 764.3L2000.7 764.3L1997.7 764.4L1994.7 764.4L1991.7 764.5L1988.7 764.5L1985.7 764.5L1982.7 764.6L1979.7 764.6L1976.7 764.7L1973.7 764.7L1970.7 764.7L1967.7 764.8L1964.7 764.8L1961.6 764.9L1958.6 764.9L1955.6 764.9L1952.6 765L1949.6 765L1946.6 765.1L1943.6 765.1L1940.6 765.1L1937.6 765.2L1934.6 765.2L1931.6 765.2L1928.6 765.3L1925.6 765.3L1922.6 765.4L1919.6 765.4L1916.5 765.4L1913.5 765.5L1910.5 765.5L1907.5 765.5L1904.5 765.6L1901.5 765.6L1898.5 765.6L1895.5 765.7L1892.5 765.7L1889.5 765.7L1886.5 765.8L1883.5 765.8L1880.5 765.8L1877.5 765.9L1874.4 765.9L1871.4 766L1868.4 766L1865.4 766L1862.4 766.1L1859.4 766.1L1856.4 766.1L1853.4 766.2L1850.4 766.2L1847.4 766.2L1844.4 766.3L1841.4 766.3L1838.4 766.4L1835.4 766.4L1832.3 766.4L1829.3 766.5L1826.3 766.5L1823.3 766.5L1820.3 766.6L1817.3 766.6L1814.3 766.7L1811.3 766.7L1808.3 766.7L1805.3 766.8L1802.3 766.8L1799.3 766.9L1796.3 766.9L1793.3 767L1790.2 767L1787.2 767L1784.2 767.1L1781.2 767.1L1778.2 767.2L1775.2 767.2L1772.2 767.3L1769.2 767.3L1766.2 767.4L1763.2 767.4L1760.2 767.5L1757.2 767.5L1754.2 767.6L1751.2 767.6L1748.1 767.7L1745.1 767.7L1742.1 767.8L1739.1 767.8L1736.1 767.9L1733.1 767.9L1730.1 768L1727.1 768L1724.1 768.1L1721.1 768.1L1718.1 768.2L1715.1 768.2L1712.1 768.3L1709.1 768.4L1706.1 768.4L1703 768.5L1700 768.6L1697 768.6L1694 768.7L1691 768.7L1688 768.8L1685 768.9L1682 768.9L1679 769L1676 769.1L1673 769.1L1670 769.2L1667 769.3L1664 769.4L1661 769.4L1658 769.5L1655 769.6L1651.9 769.7L1648.9 769.7L1645.9 769.8L1642.9 769.9L1639.9 770L1636.9 770.1L1633.9 770.1L1630.9 770.2L1627.9 770.3L1624.9 770.4L1621.9 770.5L1618.9 770.6L1615.9 770.7L1612.9 770.8L1609.9 770.9L1606.9 770.9L1603.9 771L1600.9 771.1L1597.9 771.2L1594.8 771.3L1591.8 771.4L1588.8 771.5L1585.8 771.6L1582.8 771.7L1579.8 771.9L1576.8 772L1573.8 772.1L1570.8 772.2L1567.8 772.3L1564.8 772.4L1561.8 772.5L1558.8 772.6L1555.8 772.7L1552.8 772.9L1549.8 773L1546.8 773.1L1543.8 773.2L1540.8 773.4L1537.8 773.5L1534.8 773.6L1531.8 773.7L1528.8 773.9L1525.8 774L1522.8 774.1L1519.8 774.3L1516.7 774.4L1513.7 774.5L1510.7 774.7L1507.7 774.8L1504.7 775L1501.7 775.1L1498.7 775.3L1495.7 775.4L1492.7 775.6L1489.7 775.7L1486.7 775.9L1483.7 776L1480.7 776.2L1477.7 776.3L1474.7 776.5L1471.7 776.7L1468.7 776.8L1465.7 777L1462.7 777.2L1459.7 777.4L1456.7 777.6L1453.7 777.8L1450.7 778L1447.8 778.2L1444.8 778.4L1441.8 778.6L1438.8 778.9L1435.8 779.2L1432.8 779.4L1429.9 779.7L1426.9 780L1423.9 780.3L1421 780.7L1418 781L1415.1 781.4L1412.1 781.8L1409.2 782.2L1406.2 782.6L1403.3 783L1400.3 783.5L1397.4 784L1394.5 784.5L1391.6 785L1388.7 785.5L1385.8 786.1L1382.9 786.7L1380 787.3L1377.1 788L1374.2 788.7L1371.3 789.4L1368.5 790.1L1365.6 790.9L1362.8 791.7L1359.9 792.5L1357.1 793.3L1354.3 794.2L1351.4 795.1L1348.6 796.1L1345.8 797.1L1343 798.1L1340.3 799.2L1337.5 800.2L1334.7 801.4L1332 802.5L1329.2 803.7L1326.5 805L1323.7 806.3L1321 807.6L1318.3 808.9L1315.6 810.2L1312.9 811.6L1310.2 813L1307.5 814.5L1304.8 815.9L1302.2 817.4L1299.5 818.9L1296.8 820.4L1294.2 821.9L1291.5 823.5L1288.9 825L1286.2 826.6L1283.6 828.2L1280.9 829.8L1278.3 831.4L1275.6 833L1273 834.6L1270.4 836.2L1267.7 837.8L1265.1 839.4L1262.4 841L1259.8 842.6L1257.2 844.2L1254.5 845.7L1251.9 847.3L1249.2 848.9L1246.6 850.4L1243.9 852L1241.3 853.5L1238.6 855L1236 856.5L1233.3 858L1230.6 859.4L1228 860.8L1225.3 862.2L1222.6 863.6L1219.9 865L1217.2 866.3L1214.5 867.6L1211.8 868.8L1209.1 870.1L1206.4 871.3L1203.6 872.4L1200.9 873.6L1198.2 874.7L1195.4 875.7L1192.7 876.8L1189.9 877.8L1187.1 878.8L1184.3 879.7L1181.6 880.7L1178.8 881.6L1176 882.4L1173.2 883.3L1170.4 884.1L1167.6 884.9L1164.7 885.7L1161.9 886.4L1159.1 887.1L1156.2 887.8L1153.4 888.5L1150.6 889.1L1147.7 889.7L1144.9 890.3L1142 890.9L1139.1 891.4L1136.2 891.9L1133.4 892.4L1130.5 892.9L1127.6 893.4L1124.7 893.8L1121.8 894.2L1118.9 894.6L1116 895L1113.1 895.3L1110.2 895.6L1107.3 895.9L1104.3 896.2L1101.4 896.5L1098.5 896.7L1095.5 897L1092.6 897.2L1089.7 897.4L1086.7 897.6L1083.8 897.7L1080.8 897.9L1077.8 898L1074.9 898.1L1071.9 898.2L1069 898.3L1066 898.3L1063 898.4L1060 898.4L1057 898.4L1054.1 898.4L1051.1 898.4L1048.1 898.4L1045.1 898.4L1042.1 898.3L1039.1 898.2L1036.1 898.2L1033.1 898.1L1030.1 898L1027.1 897.9L1024.1 897.8L1021.1 897.6L1018 897.5L1015 897.3L1012 897.2L1009 897L1006 896.8L1002.9 896.6L999.9 896.5L996.9 896.2L993.9 896L990.8 895.8L987.8 895.6L984.8 895.4L981.7 895.1L978.7 894.9L975.6 894.6L972.6 894.4L969.6 894.1L966.5 893.9L963.5 893.6L960.5 893.3L957.4 893L954.4 892.8L951.3 892.5L948.3 892.2L945.2 891.9L942.2 891.6L939.2 891.3L936.1 891L933.1 890.7L930 890.4L927 890.1L923.9 889.8L920.9 889.5L917.8 889.2L914.8 888.9L911.8 888.6L908.7 888.3L905.7 888.1L902.6 887.8L899.6 887.5L896.6 887.2L893.5 886.9L890.5 886.6L887.4 886.3L884.4 886.1L881.4 885.8L878.3 885.5L875.3 885.3L872.3 885L869.3 884.8L866.2 884.5L863.2 884.3L860.2 884L857.1 883.8L854.1 883.6L851.1 883.3L848.1 883.1L845.1 882.9L842 882.7L839 882.4L836 882.2L833 882L830 881.8L826.9 881.6L823.9 881.4L820.9 881.2L817.9 881L814.9 880.8L811.9 880.6L808.9 880.4L805.8 880.2L802.8 880.1L799.8 879.9L796.8 879.7L793.8 879.5L790.8 879.4L787.8 879.2L784.8 879L781.8 878.9L778.8 878.7L775.8 878.5L772.8 878.4L769.8 878.2L766.8 878.1L763.8 877.9L760.8 877.8L757.8 877.7L754.8 877.5L751.8 877.4L748.8 877.3L745.8 877.1L742.8 877L739.8 876.9L736.8 876.7L733.8 876.6L730.8 876.5L727.8 876.4L724.8 876.3L721.8 876.1L718.8 876L715.8 875.9L712.9 875.8L709.9 875.7L706.9 875.6L703.9 875.5L700.9 875.4L697.9 875.3L694.9 875.2L691.9 875.1L688.9 875L685.9 874.9L683 874.9L680 874.8L677 874.7L674 874.6L671 874.5L668 874.4L665 874.4L662 874.3L659.1 874.2L656.1 874.1L653.1 874.1L650.1 874L647.1 873.9L644.1 873.9L641.2 873.8L638.2 873.7L635.2 873.7L632.2 873.6L629.2 873.5L626.2 873.5L623.2 873.4L620.3 873.3L617.3 873.3L614.3 873.2L611.3 873.2L608.3 873.1L605.3 873.1L602.4 873L599.4 873L596.4 872.9L593.4 872.9L590.4 872.8L587.4 872.8L584.5 872.7L581.5 872.7L578.5 872.6L575.5 872.6L572.5 872.5L569.5 872.5L566.6 872.4L563.6 872.4L560.6 872.4L557.6 872.3L554.6 872.3L551.6 872.2L548.6 872.2L545.7 872.2L542.7 872.1L539.7 872.1L536.7 872L533.7 872L530.7 872L527.7 871.9L524.8 871.9L521.8 871.8L518.8 871.8L515.8 871.8L512.8 871.7L509.8 871.7L506.8 871.6L503.8 871.6L500.8 871.6L497.9 871.5L494.9 871.5L491.9 871.5L488.9 871.4L485.9 871.4L482.9 871.3L479.9 871.3L476.9 871.3L473.9 871.2L470.9 871.2L467.9 871.1L464.9 871.1L461.9 871L458.9 871L455.9 871L453 870.9L450 870.9L447 870.8L444 870.8L441 870.7L438 870.7L435 870.6L432 870.6L429 870.5L425.9 870.5L422.9 870.4L419.9 870.4L416.9 870.3L413.9 870.3L410.9 870.2L407.9 870.2L404.9 870.1L401.9 870.1L398.9 870L395.9 869.9L392.9 869.9L389.9 869.8L386.8 869.7L383.8 869.7L380.8 869.6L377.8 869.5L374.8 869.5L371.8 869.4L368.8 869.3L365.7 869.3L362.7 869.2L359.7 869.1L356.7 869L353.7 869L350.6 868.9L347.6 868.8L344.6 868.7L341.6 868.6L338.5 868.5L335.5 868.4L332.5 868.4L329.4 868.3L326.4 868.2L323.4 868.1L320.3 868L317.3 867.9L314.3 867.8L311.2 867.7L308.2 867.6L305.2 867.5L302.1 867.3L299.1 867.2L296 867.1L293 867Z"/>
<path stroke="#0000c8" d="M294.5 982L294.5 887L296.5 884.7L298.6 882.5L300.7 880.3L302.9 878.2L305 876.2L307.3 874.2L309.5 872.3L311.8 870.5L314.1 868.7L316.5 867L318.9 865.3L321.3 863.8L323.8 862.2L326.2 860.7L328.8 859.3L331.3 857.9L333.9 856.6L336.5 855.3L339.1 854.1L341.7 852.9L344.4 851.8L347.1 850.7L349.8 849.7L352.5 848.7L355.3 847.7L358.1 846.8L360.9 845.9L363.7 845.1L366.6 844.3L369.4 843.5L372.3 842.8L375.2 842.1L378.1 841.4L381 840.8L384 840.2L386.9 839.6L389.9 839L392.8 838.5L395.8 838L398.8 837.5L401.8 837L404.9 836.6L407.9 836.2L410.9 835.7L414 835.3L417 835L420.1 834.6L423.1 834.3L426.2 833.9L429.2 833.6L432.3 833.3L435.4 832.9L438.4 832.6L441.5 832.3L444.6 832L447.7 831.7L450.7 831.4L453.8 831.1L456.8 830.8L459.9 830.5L463 830.2L466 829.9L469 829.6L472.1 829.3L475.1 829L478.2 828.6L481.2 828.3L484.2 828L487.3 827.7L490.3 827.4L493.3 827.1L496.3 826.7L499.4 826.4L502.4 826.1L505.4 825.8L508.4 825.5L511.4 825.1L514.4 824.8L517.4 824.5L520.4 824.2L523.4 823.9L526.4 823.5L529.4 823.2L532.4 822.9L535.4 822.6L538.4 822.3L541.4 821.9L544.4 821.6L547.3 821.3L550.3 821L553.3 820.7L556.3 820.4L559.3 820.1L562.3 819.7L565.2 819.4L568.2 819.1L571.2 818.8L574.2 818.5L577.1 818.2L580.1 817.9L583.1 817.6L586 817.3L589 817L592 816.7L594.9 816.4L597.9 816.1L600.9 815.8L603.8 815.5L606.8 815.2L609.8 815L612.7 814.7L615.7 814.4L618.7 814.1L621.6 813.9L624.6 813.6L627.6 813.3L630.5 813.1L633.5 812.8L636.4 812.5L639.4 812.3L642.4 812L645.3 811.8L648.3 811.5L651.3 811.3L654.2 811.1L657.2 810.8L660.2 810.6L663.1 810.4L666.1 810.1L669.1 809.9L672 809.7L675 809.5L678 809.3L681 809.1L683.9 808.9L686.9 808.7L689.9 808.5L692.9 808.3L695.9 808.2L698.8 808L701.8 807.8L704.8 807.6L707.8 807.5L710.8 807.3L713.8 807.2L716.8 807L719.7 806.9L722.7 806.8L725.7 806.6L728.7 806.5L731.7 806.4L734.7 806.3L737.7 806.2L740.7 806.1L743.8 806L746.8 805.9L749.8 805.8L752.8 805.8L755.8 805.7L758.8 805.6L761.9 805.6L764.9 805.5L767.9 805.5L770.9 805.4L774 805.4L777 805.3L780 805.3L783.1 805.2L786.1 805.2L789.1 805.2L792.2 805.1L795.2 805.1L798.2 805.1L801.3 805L804.3 805L807.4 805L810.4 804.9L813.4 804.9L816.5 804.9L819.5 804.8L822.6 804.8L825.6 804.7L828.6 804.7L831.7 804.6L834.7 804.6L837.8 804.5L840.8 804.5L843.8 804.4L846.9 804.3L849.9 804.2L853 804.1L856 804.1L859 804L862.1 803.9L865.1 803.7L868.1 803.6L871.2 803.5L874.2 803.4L877.2 803.2L880.2 803.1L883.3 802.9L886.3 802.8L889.3 802.6L892.3 802.4L895.4 802.2L898.4 802L901.4 801.8L904.4 801.5L907.4 801.3L910.4 801L913.4 800.8L916.4 800.5L919.4 800.2L922.4 799.9L925.4 799.6L928.4 799.2L931.4 798.9L934.3 798.5L937.3 798.1L940.3 797.7L943.3 797.3L946.2 796.9L949.2 796.5L952.2 796L955.1 795.5L958.1 795L961 794.5L964 794L966.9 793.4L969.8 792.9L972.8 792.3L975.7 791.7L978.6 791L981.5 790.4L984.4 789.7L987.4 789L990.3 788.3L993.2 787.6L996 786.8L998.9 786.1L1001.8 785.3L1004.7 784.4L1007.5 783.6L1010.4 782.7L1013.2 781.8L1016.1 780.9L1018.9 779.9L1021.7 779L1024.5 778L1027.3 776.9L1030.1 775.9L1032.9 774.8L1035.6 773.6L1038.4 772.5L1041.1 771.3L1043.8 770.1L1046.5 768.8L1049.2 767.5L1051.8 766.2L1054.5 764.9L1057.1 763.5L1059.7 762L1062.3 760.6L1064.8 759.1L1067.4 757.5L1069.9 756L1072.4 754.4L1074.9 752.7L1077.3 751L1079.8 749.3L1082.2 747.5L1084.6 745.7L1086.9 743.9L1089.3 742L1091.6 740.1L1093.9 738.1L1096.2 736.2L1098.4 734.2L1100.7 732.1L1102.9 730.1L1105.1 728L1107.3 725.9L1109.5 723.8L1111.7 721.7L1113.8 719.6L1116 717.4L1118.1 715.2L1120.2 713.1L1122.3 710.9L1124.4 708.7L1126.5 706.5L1128.6 704.3L1130.7 702.1L1132.7 699.9L1134.8 697.7L1136.8 695.5L1138.8 693.3L1140.9 691.1L1142.9 688.8L1144.9 686.6L1146.8 684.4L1148.8 682.1L1150.8 679.9L1152.7 677.6L1154.6 675.4L1156.6 673.1L1158.5 670.8L1160.3 668.5L1162.2 666.2L1164.1 663.9L1165.9 661.6L1167.8 659.2L1169.6 656.9L1171.4 654.5L1173.1 652.2L1174.9 649.8L1176.7 647.4L1178.4 645L1180.1 642.6L1181.9 640.2L1183.6 637.7L1185.3 635.3L1187 632.9L1188.7 630.4L1190.5 628L1192.2 625.5L1193.9 623.1L1195.6 620.6L1197.4 618.2L1199.1 615.7L1200.9 613.2L1202.6 610.8L1204.4 608.3L1206.2 605.9L1208 603.4L1209.8 601L1211.7 598.6L1213.6 596.1L1215.5 593.7L1217.4 591.3L1219.4 588.8L1221.3 586.4L1223.3 584L1225.4 581.7L1227.5 579.3L1229.6 576.9L1231.7 574.6L1233.8 572.3L1236 570L1238.2 567.8L1240.5 565.6L1242.8 563.4L1245.1 561.3L1247.4 559.2L1249.7 557.2L1252.1 555.2L1254.5 553.3L1256.9 551.5L1259.4 549.7L1261.9 547.9L1264.4 546.3L1266.9 544.7L1269.4 543.1L1272 541.7L1274.6 540.3L1277.2 539.1L1279.9 537.9L1282.5 536.8L1285.2 535.8L1287.9 534.9L1290.6 534.1L1293.4 533.4L1296.1 532.8L1298.9 532.2L1301.7 531.8L1304.6 531.5L1307.4 531.2L1310.2 531.1L1313.1 531L1316 531L1318.9 531.1L1321.8 531.2L1324.7 531.5L1327.6 531.7L1330.5 532.1L1333.4 532.5L1336.3 533L1339.3 533.6L1342.2 534.2L1345.1 534.8L1348.1 535.5L1351 536.3L1353.9 537.1L1356.9 538L1359.8 538.9L1362.7 539.8L1365.6 540.8L1368.5 541.8L1371.4 542.8L1374.3 543.9L1377.2 545L1380.1 546.2L1383 547.3L1385.8 548.5L1388.6 549.7L1391.4 550.9L1394.3 552.1L1397.1 553.3L1399.8 554.6L1402.6 555.9L1405.4 557.2L1408.1 558.4L1410.9 559.7L1413.6 561.1L1416.4 562.4L1419.1 563.7L1421.8 565L1424.5 566.4L1427.2 567.7L1430 569L1432.7 570.4L1435.4 571.7L1438.1 573L1440.8 574.4L1443.5 575.7L1446.2 577L1448.9 578.3L1451.6 579.6L1454.3 580.9L1457 582.2L1459.7 583.5L1462.4 584.7L1465.1 586L1467.9 587.2L1470.6 588.4L1473.4 589.6L1476.1 590.8L1478.9 591.9L1481.6 593.1L1484.4 594.2L1487.2 595.3L1490 596.4L1492.8 597.4L1495.6 598.5L1498.4 599.5L1501.2 600.5L1504 601.5L1506.8 602.5L1509.6 603.5L1512.5 604.4L1515.3 605.3L1518.2 606.2L1521 607.1L1523.9 608L1526.8 608.9L1529.6 609.8L1532.5 610.6L1535.4 611.4L1538.3 612.2L1541.2 613L1544.1 613.8L1547 614.6L1549.9 615.3L1552.8 616.1L1555.7 616.8L1558.6 617.5L1561.6 618.2L1564.5 618.9L1567.4 619.6L1570.4 620.3L1573.3 620.9L1576.2 621.6L1579.2 622.2L1582.1 622.8L1585.1 623.5L1588 624.1L1591 624.7L1593.9 625.2L1596.9 625.8L1599.9 626.4L1602.8 626.9L1605.8 627.5L1608.8 628L1611.7 628.6L1614.7 629.1L1617.7 629.6L1620.7 630.1L1623.6 630.6L1626.6 631.1L1629.6 631.6L1632.6 632.1L1635.6 632.5L1638.5 633L1641.5 633.5L1644.5 633.9L1647.5 634.4L1650.5 634.8L1653.4 635.3L1656.4 635.7L1659.4 636.1L1662.4 636.5L1665.4 636.9L1668.4 637.3L1671.4 637.7L1674.3 638.1L1677.3 638.5L1680.3 638.9L1683.3 639.3L1686.3 639.7L1689.3 640L1692.3 640.4L1695.3 640.7L1698.2 641.1L1701.2 641.4L1704.2 641.8L1707.2 642.1L1710.2 642.4L1713.2 642.7L1716.2 643L1719.2 643.4L1722.2 643.7L1725.2 643.9L1728.2 644.2L1731.2 644.5L1734.2 644.8L1737.1 645.1L1740.1 645.3L1743.1 645.6L1746.1 645.9L1749.1 646.1L1752.1 646.3L1755.1 646.6L1758.1 646.8L1761.1 647L1764.1 647.3L1767.1 647.5L1770.1 647.7L1773.1 647.9L1776.1 648.1L1779.1 648.3L1782.1 648.5L1785.1 648.7L1788.1 648.8L1791.1 649L1794.1 649.2L1797.1 649.3L1800.1 649.5L1803.1 649.7L1806.1 649.8L1809.1 649.9L1812.1 650.1L1815.1 650.2L1818.1 650.3L1821.1 650.5L1824.1 650.6L1827.1 650.7L1830.1 650.8L1833.1 650.9L1836.1 651L1839.1 651.1L1842.1 651.1L1845.1 651.2L1848.1 651.3L1851.1 651.4L1854.1 651.4L1857.1 651.5L1860.1 651.5L1863.1 651.6L1866.1 651.6L1869.1 651.6L1872.1 651.7L1875.2 651.7L1878.2 651.7L1881.2 651.7L1884.2 651.8L1887.2 651.8L1890.2 651.8L1893.2 651.8L1896.2 651.7L1899.2 651.7L1902.2 651.7L1905.2 651.7L1908.2 651.7L1911.2 651.6L1914.2 651.6L1917.2 651.6L1920.2 651.5L1923.2 651.5L1926.2 651.4L1929.2 651.3L1932.2 651.3L1935.2 651.2L1938.2 651.1L1941.2 651L1944.2 650.9L1947.2 650.9L1950.2 650.8L1953.2 650.7L1956.2 650.6L1959.3 650.4L1962.3 650.3L1965.3 650.2L1968.3 650.1L1971.3 650L1974.3 649.8L1977.3 649.7L1980.3 649.6L1983.3 649.4L1986.3 649.3L1989.3 649.1L1992.3 648.9L1995.3 648.8L1998.3 648.6L2001.3 648.4L2004.3 648.3L2007.3 648.1L2010.3 647.9L2013.3 647.7L2016.3 647.5L2019.3 647.3L2022.3 647.1L2025.3 646.9L2028.3 646.7L2031.3 646.5L2034.3 646.2L2037.3 646L2040.3 645.8L2043.3 645.6L2046.3 645.3L2049.3 645.1L2052.3 644.8L2055.3 644.6L2058.3 644.3L2061.2 644.1L2064.2 643.8L2067.2 643.5L2070.2 643.3L2073.2 643L2076.2 642.7L2079.2 642.4L2082.2 642.1L2085.2 641.8L2088.2 641.5L2091.2 641.2L2094.2 640.9L2097.2 640.6L2100.2 640.3L2103.2 640L2106.2 639.7L2109.1 639.4L2112.1 639L2115.1 638.7L2118.1 638.4L2121.1 638L2124.1 637.7L2127.1 637.3L2130.1 637L2133.1 636.6L2136 636.3L2139 635.9L2142 635.5L2145 635.2L2148 634.8L2151 634.4L2154 634L2156.9 633.6L2159.9 633.3L2162.9 632.9L2165.9 632.5L2168.9 632.1L2171.8 631.7L2174.8 631.2L2177.8 630.8L2180.8 630.4L2183.8 630L2186.7 629.6L2189.7 629.2L2192.7 628.7L2195.7 628.3L2198.7 627.9L2201.6 627.4L2204.6 627L2207.6 626.5L2210.6 626.1L2213.5 625.6L2216.5 625.2L2219.5 624.7L2222.4 624.2L2225.4 623.8L2228.4 623.3L2231.4 622.8L2234.3 622.3L2237.3 621.9L2240.3 621.4L2243.2 620.9L2246.2 620.4L2247 660L2246 711.7L2244.1 714.2L2242.1 716.6L2240 718.9L2237.9 721.1L2235.7 723.2L2233.4 725.2L2231.1 727.1L2228.8 728.9L2226.4 730.6L2223.9 732.3L2221.4 733.9L2218.9 735.4L2216.3 736.8L2213.7 738.2L2211 739.5L2208.3 740.8L2205.6 742L2202.9 743.1L2200.1 744.2L2197.3 745.3L2194.5 746.4L2191.7 747.4L2188.8 748.3L2186 749.3L2183.1 750.2L2180.3 751.1L2177.4 752L2174.5 752.9L2171.6 753.7L2168.7 754.6L2165.9 755.4L2163 756.2L2160.1 757L2157.2 757.8L2154.3 758.6L2151.4 759.4L2148.5 760.1L2145.6 760.8L2142.6 761.6L2139.7 762.3L2136.8 763L2133.9 763.7L2131 764.3L2128 765L2125.1 765.6L2122.2 766.3L2119.2 766.9L2116.3 767.5L2113.3 768.1L2110.4 768.7L2107.4 769.3L2104.5 769.8L2101.5 770.4L2098.6 770.9L2095.6 771.5L2092.7 772L2089.7 772.5L2086.7 773L2083.8 773.5L2080.8 774L2077.8 774.5L2074.9 774.9L2071.9 775.4L2068.9 775.8L2065.9 776.3L2062.9 776.7L2060 777.1L2057 777.6L2054 778L2051 778.4L2048 778.7L2045 779.1L2042 779.5L2039.1 779.9L2036.1 780.2L2033.1 780.6L2030.1 780.9L2027.1 781.3L2024.1 781.6L2021.1 782L2018.1 782.3L2015.1 782.6L2012.1 782.9L2009.1 783.2L2006.1 783.5L2003.1 783.8L2000.1 784.1L1997.1 784.4L1994.1 784.7L1991.1 785L1988.1 785.2L1985.1 785.5L1982.1 785.8L1979.1 786L1976.1 786.3L1973.1 786.5L1970.1 786.8L1967.1 787L1964.1 787.3L1961.1 787.5L1958.1 787.7L1955.1 787.9L1952.1 788.2L1949.1 788.4L1946.1 788.6L1943.1 788.8L1940.1 789L1937.1 789.2L1934.1 789.4L1931 789.6L1928 789.8L1925 790L1922 790.2L1919 790.4L1916 790.6L1913 790.8L1910 790.9L1907 791.1L1904 791.3L1901 791.5L1898 791.6L1895 791.8L1892 792L1889 792.1L1886 792.3L1883 792.4L1879.9 792.6L1876.9 792.7L1873.9 792.9L1870.9 793L1867.9 793.2L1864.9 793.3L1861.9 793.5L1858.9 793.6L1855.9 793.8L1852.9 793.9L1849.9 794L1846.9 794.2L1843.9 794.3L1840.9 794.4L1837.9 794.6L1834.8 794.7L1831.8 794.8L1828.8 795L1825.8 795.1L1822.8 795.2L1819.8 795.3L1816.8 795.5L1813.8 795.6L1810.8 795.7L1807.8 795.8L1804.8 796L1801.8 796.1L1798.8 796.2L1795.8 796.3L1792.8 796.4L1789.7 796.6L1786.7 796.7L1783.7 796.8L1780.7 796.9L1777.7 797.1L1774.7 797.2L1771.7 797.3L1768.7 797.4L1765.7 797.6L1762.7 797.7L1759.7 797.8L1756.7 797.9L1753.7 798.1L1750.7 798.2L1747.7 798.3L1744.7 798.5L1741.7 798.6L1738.7 798.7L1735.7 798.8L1732.7 799L1729.7 799.1L1726.7 799.3L1723.6 799.4L1720.6 799.5L1717.6 799.7L1714.6 799.8L1711.6 800L1708.6 800.1L1705.6 800.3L1702.6 800.4L1699.6 800.6L1696.6 800.7L1693.6 800.9L1690.6 801L1687.6 801.2L1684.6 801.4L1681.6 801.5L1678.6 801.7L1675.6 801.9L1672.6 802L1669.6 802.2L1666.6 802.4L1663.6 802.6L1660.6 802.8L1657.6 803L1654.7 803.1L1651.7 803.3L1648.7 803.5L1645.7 803.7L1642.7 803.9L1639.7 804.2L1636.7 804.4L1633.7 804.6L1630.7 804.8L1627.7 805L1624.7 805.2L1621.7 805.5L1618.7 805.7L1615.7 805.9L1612.7 806.2L1609.7 806.4L1606.7 806.7L1603.8 806.9L1600.8 807.2L1597.8 807.4L1594.8 807.7L1591.8 808L1588.8 808.3L1585.8 808.5L1582.8 808.8L1579.8 809.1L1576.9 809.4L1573.9 809.7L1570.9 810L1567.9 810.3L1564.9 810.6L1561.9 810.9L1558.9 811.3L1556 811.6L1553 811.9L1550 812.3L1547 812.6L1544 813L1541.1 813.3L1538.1 813.7L1535.1 814.1L1532.1 814.4L1529.1 814.8L1526.2 815.2L1523.2 815.6L1520.2 816L1517.2 816.4L1514.3 816.8L1511.3 817.2L1508.3 817.6L1505.3 818.1L1502.4 818.5L1499.4 819L1496.4 819.4L1493.4 819.9L1490.5 820.3L1487.5 820.8L1484.5 821.3L1481.6 821.8L1478.6 822.2L1475.6 822.7L1472.6 823.3L1469.7 823.8L1466.7 824.3L1463.8 824.8L1460.8 825.4L1457.9 826L1454.9 826.6L1452 827.2L1449 827.8L1446.1 828.4L1443.2 829.1L1440.3 829.8L1437.3 830.5L1434.4 831.2L1431.5 832L1428.7 832.8L1425.8 833.6L1422.9 834.4L1420.1 835.3L1417.2 836.2L1414.4 837.1L1411.6 838.1L1408.7 839.1L1405.9 840.1L1403.2 841.2L1400.4 842.3L1397.6 843.4L1394.9 844.6L1392.1 845.8L1389.4 847.1L1386.7 848.4L1384 849.8L1381.4 851.2L1378.7 852.6L1376.1 854.1L1373.5 855.6L1370.9 857.2L1368.3 858.8L1365.8 860.4L1363.2 862.1L1360.7 863.8L1358.3 865.5L1355.8 867.3L1353.4 869.1L1351 871L1348.6 872.8L1346.2 874.7L1343.9 876.7L1341.6 878.6L1339.4 880.6L1337.1 882.6L1334.9 884.7L1332.8 886.8L1330.6 888.9L1328.5 891L1326.4 893.1L1324.4 895.3L1322.3 897.5L1320.3 899.7L1318.3 901.9L1316.4 904.2L1314.4 906.4L1312.5 908.7L1310.6 911L1308.8 913.4L1306.9 915.7L1305.1 918L1303.2 920.4L1301.4 922.8L1299.6 925.2L1297.9 927.6L1296.1 930L1294.3 932.4L1292.6 934.8L1290.9 937.3L1289.2 939.7L1287.4 942.2L1285.7 944.6L1284 947.1L1282.3 949.6L1280.7 952L1279 954.5L1277.3 957L1275.6 959.5L1273.9 962L1272.3 964.4L1270.6 966.9L1268.9 969.4L1267.2 971.9L1265.6 974.3L1263.9 976.8L1262.2 979.3L1260.5 981.7L1258.8 984.2L1257.1 986.6L1255.4 989.1L1253.6 991.5L1251.9 994L1250.2 996.4L1248.4 998.8L1246.7 1001.3L1244.9 1003.7L1243.2 1006.1L1241.4 1008.5L1239.6 1010.9L1237.8 1013.4L1236 1015.8L1234.2 1018.2L1232.3 1020.6L1230.5 1022.9L1228.6 1025.3L1226.7 1027.7L1224.8 1030.1L1222.9 1032.5L1221 1034.8L1219.1 1037.2L1217.1 1039.6L1215.2 1041.9L1213.2 1044.3L1211.2 1046.6L1209.1 1049L1207.1 1051.3L1205 1053.7L1203 1056L1200.9 1058.3L1198.7 1060.6L1196.6 1062.9L1194.4 1065.2L1192.3 1067.4L1190 1069.6L1187.8 1071.7L1185.6 1073.8L1183.3 1075.9L1181 1077.9L1178.6 1079.9L1176.3 1081.8L1173.9 1083.6L1171.5 1085.4L1169.1 1087.1L1166.6 1088.7L1164.1 1090.2L1161.6 1091.6L1159 1092.9L1156.4 1094.2L1153.8 1095.3L1151.2 1096.4L1148.5 1097.3L1145.8 1098.1L1143 1098.8L1140.3 1099.4L1137.5 1099.8L1134.6 1100.2L1131.8 1100.5L1128.9 1100.7L1126.1 1100.8L1123.2 1100.8L1120.3 1100.8L1117.4 1100.6L1114.4 1100.4L1111.5 1100.1L1108.6 1099.8L1105.7 1099.3L1102.7 1098.9L1099.8 1098.3L1096.9 1097.7L1093.9 1097.1L1091 1096.4L1088.1 1095.7L1085.2 1094.9L1082.3 1094.1L1079.5 1093.2L1076.6 1092.3L1073.7 1091.4L1070.9 1090.4L1068.1 1089.4L1065.2 1088.4L1062.4 1087.3L1059.6 1086.2L1056.8 1085.1L1054 1084L1051.2 1082.8L1048.4 1081.7L1045.6 1080.5L1042.8 1079.3L1040.1 1078L1037.3 1076.8L1034.5 1075.6L1031.7 1074.3L1029 1073L1026.2 1071.8L1023.4 1070.5L1020.7 1069.2L1017.9 1067.9L1015.2 1066.6L1012.4 1065.3L1009.6 1064L1006.9 1062.8L1004.1 1061.5L1001.3 1060.2L998.6 1059L995.8 1057.7L993 1056.5L990.2 1055.3L987.4 1054.1L984.6 1052.9L981.9 1051.7L979.1 1050.6L976.2 1049.5L973.4 1048.4L970.6 1047.3L967.8 1046.2L965 1045.1L962.2 1044.1L959.3 1043L956.5 1042L953.7 1041L950.8 1040L948 1039L945.1 1038.1L942.3 1037.1L939.4 1036.2L936.6 1035.3L933.7 1034.4L930.8 1033.5L928 1032.6L925.1 1031.7L922.2 1030.9L919.3 1030.1L916.5 1029.2L913.6 1028.4L910.7 1027.6L907.8 1026.9L904.9 1026.1L902 1025.3L899.1 1024.6L896.2 1023.9L893.3 1023.1L890.4 1022.4L887.4 1021.7L884.5 1021.1L881.6 1020.4L878.7 1019.7L875.8 1019.1L872.8 1018.4L869.9 1017.8L867 1017.2L864 1016.6L861.1 1016L858.1 1015.4L855.2 1014.8L852.3 1014.3L849.3 1013.7L846.4 1013.2L843.4 1012.6L840.4 1012.1L837.5 1011.6L834.5 1011.1L831.6 1010.6L828.6 1010.1L825.6 1009.6L822.7 1009.1L819.7 1008.7L816.7 1008.2L813.8 1007.8L810.8 1007.3L807.8 1006.9L804.8 1006.5L801.9 1006.1L798.9 1005.6L795.9 1005.2L792.9 1004.8L789.9 1004.5L786.9 1004.1L784 1003.7L781 1003.3L778 1003L775 1002.6L772 1002.3L769 1001.9L766 1001.6L763 1001.2L760 1000.9L757 1000.6L754 1000.3L751 1000L748 999.7L745 999.4L742 999.1L739 998.8L736 998.5L733 998.2L730 997.9L727 997.6L724 997.4L721 997.1L718 996.8L715 996.5L712 996.3L709 996L706 995.8L703 995.5L700 995.3L697 995L694 994.8L691 994.5L688 994.3L685 994L682 993.8L679 993.6L676 993.3L673 993.1L670 992.9L667 992.6L664 992.4L661 992.2L658 992L655 991.8L652 991.5L649 991.3L646 991.1L643 990.9L640 990.7L637 990.5L634 990.3L631 990.1L628 989.9L625 989.7L622 989.5L619 989.3L616 989.1L613 988.9L610 988.7L607 988.6L604 988.4L601 988.2L598 988L595 987.8L592 987.7L589 987.5L586 987.3L583 987.2L580 987L577 986.8L574 986.7L571 986.5L568 986.4L565 986.2L562 986.1L559 985.9L556 985.8L553 985.6L550 985.5L547 985.4L544 985.2L541 985.1L538 984.9L535 984.8L532 984.7L529 984.6L526 984.4L523 984.3L520 984.2L517 984.1L514 984L511 983.9L508 983.8L505 983.6L502 983.5L499 983.4L496 983.3L493 983.2L490 983.1L487 983.1L484 983L481 982.9L478 982.8L475 982.7L472 982.6L469 982.5L466 982.5L463 982.4L460 982.3L457 982.2L454 982.2L451 982.1L447.9 982L444.9 982L441.9 981.9L438.9 981.9L435.9 981.8L432.9 981.8L429.9 981.7L426.9 981.7L423.9 981.6L420.9 981.6L417.9 981.5L414.9 981.5L411.9 981.5L408.9 981.4L405.9 981.4L402.9 981.4L399.9 981.4L396.9 981.3L393.9 981.3L390.9 981.3L387.8 981.3L384.8 981.3L381.8 981.3L378.8 981.3L375.8 981.2L372.8 981.2L369.8 981.2L366.8 981.2L363.8 981.2L360.8 981.3L357.8 981.3L354.8 981.3L351.7 981.3L348.7 981.3L345.7 981.3L342.7 981.3L339.7 981.4L336.7 981.4L333.7 981.4L330.7 981.4L327.7 981.5L324.6 981.5L321.6 981.6L318.6 981.6L315.6 981.6L312.6 981.7L309.6 981.7L306.6 981.8L303.5 981.8L300.5 981.9L297.5 981.9L294.5 982Z"/>
<path stroke="#007f7f" d="M294 968.2L294 924L297 923.7L300 923.4L303 923.1L306 922.8L308.9 922.6L311.9 922.3L314.9 922L317.9 921.7L320.9 921.5L323.9 921.2L326.9 920.9L329.9 920.7L332.9 920.4L335.9 920.1L338.9 919.9L341.9 919.6L344.9 919.4L347.9 919.1L350.8 918.9L353.8 918.6L356.8 918.4L359.8 918.1L362.8 917.9L365.8 917.6L368.8 917.4L371.8 917.1L374.8 916.9L377.8 916.7L380.8 916.4L383.8 916.2L386.8 916L389.8 915.7L392.8 915.5L395.8 915.3L398.8 915.1L401.8 914.8L404.8 914.6L407.8 914.4L410.8 914.2L413.8 913.9L416.8 913.7L419.8 913.5L422.8 913.3L425.8 913.1L428.8 912.9L431.8 912.6L434.8 912.4L437.8 912.2L440.8 912L443.8 911.8L446.8 911.6L449.8 911.4L452.8 911.2L455.8 911L458.8 910.7L461.8 910.5L464.8 910.3L467.8 910.1L470.8 909.9L473.8 909.7L476.8 909.5L479.8 909.3L482.8 909.1L485.8 908.9L488.8 908.7L491.8 908.5L494.8 908.3L497.8 908.1L500.8 907.9L503.8 907.6L506.8 907.4L509.8 907.2L512.8 907L515.9 906.8L518.9 906.6L521.9 906.4L524.9 906.2L527.9 906L530.9 905.8L533.9 905.6L536.9 905.4L539.9 905.2L542.9 904.9L545.9 904.7L548.9 904.5L551.9 904.3L554.9 904.1L557.8 903.9L560.8 903.7L563.8 903.4L566.8 903.2L569.8 903L572.8 902.8L575.8 902.6L578.8 902.4L581.8 902.1L584.8 901.9L587.8 901.7L590.8 901.5L593.8 901.2L596.8 901L599.8 900.8L602.8 900.5L605.8 900.3L608.8 900.1L611.8 899.8L614.8 899.6L617.8 899.4L620.8 899.1L623.8 898.9L626.7 898.6L629.7 898.4L632.7 898.1L635.7 897.9L638.7 897.7L641.7 897.4L644.7 897.2L647.7 896.9L650.7 896.7L653.7 896.4L656.7 896.1L659.6 895.9L662.6 895.6L665.6 895.4L668.6 895.1L671.6 894.9L674.6 894.6L677.6 894.4L680.6 894.1L683.6 893.8L686.6 893.6L689.5 893.3L692.5 893L695.5 892.8L698.5 892.5L701.5 892.3L704.5 892L707.5 891.7L710.5 891.5L713.5 891.2L716.5 890.9L719.5 890.7L722.4 890.4L725.4 890.1L728.4 889.9L731.4 889.6L734.4 889.3L737.4 889L740.4 888.8L743.4 888.5L746.4 888.2L749.4 888L752.4 887.7L755.4 887.4L758.3 887.2L761.3 886.9L764.3 886.6L767.3 886.3L770.3 886.1L773.3 885.8L776.3 885.5L779.3 885.3L782.3 885L785.3 884.7L788.3 884.4L791.3 884.2L794.3 883.9L797.3 883.6L800.3 883.4L803.3 883.1L806.3 882.8L809.3 882.6L812.3 882.3L815.3 882L818.3 881.8L821.3 881.5L824.3 881.2L827.3 881L830.3 880.7L833.3 880.4L836.3 880.2L839.3 879.9L842.3 879.6L845.3 879.4L848.3 879.1L851.3 878.8L854.3 878.5L857.3 878.3L860.4 878L863.4 877.7L866.4 877.4L869.4 877.1L872.4 876.8L875.4 876.5L878.4 876.1L881.3 875.8L884.3 875.5L887.3 875.1L890.3 874.8L893.3 874.4L896.3 874L899.3 873.6L902.3 873.2L905.2 872.8L908.2 872.3L911.2 871.9L914.2 871.4L917.1 870.9L920.1 870.4L923 869.9L926 869.4L929 868.8L931.9 868.2L934.8 867.6L937.8 867L940.7 866.4L943.7 865.7L946.6 865.1L949.5 864.4L952.4 863.7L955.3 862.9L958.2 862.1L961.1 861.4L964 860.5L966.9 859.7L969.8 858.8L972.7 857.9L975.5 857L978.4 856.1L981.2 855.1L984 854.1L986.9 853.1L989.7 852L992.5 850.9L995.3 849.8L998 848.7L1000.8 847.5L1003.5 846.3L1006.2 845L1008.9 843.8L1011.6 842.5L1014.3 841.1L1016.9 839.8L1019.6 838.4L1022.2 837L1024.8 835.5L1027.4 834L1029.9 832.5L1032.5 830.9L1035 829.3L1037.4 827.7L1039.9 826L1042.3 824.3L1044.8 822.6L1047.1 820.8L1049.5 819L1051.8 817.1L1054.1 815.2L1056.4 813.3L1058.7 811.3L1060.9 809.3L1063.1 807.3L1065.3 805.2L1067.4 803.1L1069.5 801L1071.6 798.8L1073.7 796.6L1075.8 794.4L1077.8 792.2L1079.8 789.9L1081.8 787.6L1083.7 785.3L1085.7 783L1087.6 780.6L1089.5 778.3L1091.3 775.9L1093.2 773.5L1095 771.1L1096.8 768.6L1098.6 766.2L1100.4 763.7L1102.2 761.3L1103.9 758.8L1105.6 756.3L1107.4 753.8L1109 751.3L1110.7 748.8L1112.4 746.3L1114 743.8L1115.6 741.3L1117.3 738.7L1118.8 736.2L1120.4 733.6L1122 731.1L1123.5 728.5L1125.1 725.9L1126.6 723.3L1128.1 720.7L1129.6 718.1L1131.1 715.5L1132.5 712.9L1134 710.3L1135.4 707.7L1136.9 705L1138.3 702.4L1139.7 699.8L1141.1 697.1L1142.5 694.5L1143.8 691.8L1145.2 689.1L1146.5 686.4L1147.9 683.8L1149.2 681.1L1150.5 678.4L1151.8 675.7L1153.1 673L1154.4 670.3L1155.7 667.6L1156.9 664.9L1158.2 662.2L1159.4 659.4L1160.7 656.7L1161.9 654L1163.1 651.2L1164.3 648.5L1165.5 645.7L1166.7 643L1167.9 640.2L1169.1 637.5L1170.3 634.7L1171.5 632L1172.6 629.2L1173.8 626.4L1175 623.7L1176.1 620.9L1177.2 618.1L1178.4 615.3L1179.5 612.6L1180.6 609.8L1181.8 607L1182.9 604.2L1184 601.4L1185.1 598.6L1186.2 595.8L1187.3 593L1188.4 590.2L1189.5 587.4L1190.6 584.6L1191.7 581.8L1192.8 579L1193.9 576.2L1195 573.4L1196.1 570.6L1197.2 567.8L1198.3 565L1199.3 562.2L1200.4 559.4L1201.5 556.6L1202.6 553.8L1203.7 551L1204.8 548.2L1205.8 545.4L1206.9 542.6L1208 539.8L1209.1 536.9L1210.1 534.1L1211.2 531.3L1212.3 528.5L1213.4 525.7L1214.4 522.9L1215.5 520.1L1216.6 517.3L1217.7 514.5L1218.7 511.7L1219.8 508.8L1220.9 506L1221.9 503.2L1223 500.4L1224 497.6L1225.1 494.8L1226.2 492L1227.2 489.2L1228.3 486.4L1229.3 483.5L1230.4 480.7L1231.5 477.9L1232.5 475.1L1233.6 472.3L1234.6 469.5L1235.7 466.7L1236.7 463.8L1237.8 461L1238.8 458.2L1239.9 455.4L1240.9 452.6L1241.9 449.8L1243 446.9L1244 444.1L1245.1 441.3L1246.1 438.5L1247.1 435.7L1248.2 432.9L1249.2 430L1250.2 427.2L1251.3 424.4L1252.3 421.6L1253.3 418.8L1254.4 416L1255.4 413.1L1256.4 410.3L1257.4 407.5L1258.5 404.7L1259.5 401.9L1260.5 399L1261.5 396.2L1262.5 393.4L1263.6 390.6L1264.6 387.8L1265.6 384.9L1266.6 382.1L1267.6 379.3L1268.6 376.5L1269.6 373.7L1270.6 370.8L1271.6 368L1272.6 365.2L1273.6 362.4L1274.6 359.6L1275.6 356.7L1276.6 353.9L1277.6 351.1L1278.6 348.3L1279.6 345.4L1280.6 342.6L1281.6 339.8L1282.6 337L1283.6 334.2L1284.6 331.4L1285.7 328.5L1286.7 325.7L1287.7 322.9L1288.7 320.1L1289.8 317.3L1290.8 314.5L1291.8 311.7L1292.9 308.9L1294 306.1L1295 303.3L1296.1 300.5L1297.2 297.7L1298.3 294.9L1299.4 292.1L1300.5 289.3L1301.7 286.5L1302.8 283.7L1304 280.9L1305.1 278.1L1306.3 275.4L1307.5 272.6L1308.7 269.8L1309.9 267L1311.2 264.3L1312.4 261.5L1313.7 258.8L1315 256L1316.3 253.2L1317.6 250.5L1318.9 247.8L1320.3 245L1321.7 242.3L1323.1 239.5L1324.5 236.8L1325.9 234.1L1327.4 231.4L1328.9 228.7L1330.4 225.9L1331.9 223.2L1333.5 220.5L1335 217.8L1336.6 215.2L1338.3 212.5L1339.9 209.8L1341.6 207.1L1343.3 204.5L1345 201.8L1346.8 199.2L1348.6 196.7L1350.4 194.2L1352.3 191.7L1354.2 189.3L1356.2 187L1358.2 184.8L1360.3 182.6L1362.4 180.6L1364.6 178.7L1366.9 176.8L1369.2 175.1L1371.5 173.6L1374 172.1L1376.5 170.8L1379 169.7L1381.7 168.7L1384.3 167.9L1387.1 167.2L1389.9 166.7L1392.7 166.3L1395.6 166L1398.4 165.9L1401.4 166L1404.3 166.1L1407.2 166.4L1410.1 166.9L1413 167.4L1416 168.1L1418.8 168.9L1421.7 169.8L1424.5 170.9L1427.3 172L1430.1 173.3L1432.8 174.7L1435.5 176.1L1438.1 177.7L1440.7 179.4L1443.2 181.1L1445.7 183L1448.2 184.9L1450.6 186.8L1453 188.9L1455.4 190.9L1457.7 193.1L1460 195.2L1462.2 197.4L1464.4 199.7L1466.6 201.9L1468.7 204.2L1470.8 206.5L1472.9 208.8L1475 211.1L1477 213.4L1479 215.7L1481 218L1482.9 220.3L1484.9 222.6L1486.8 224.9L1488.7 227.2L1490.5 229.5L1492.4 231.8L1494.3 234.1L1496.1 236.4L1498 238.8L1499.8 241.1L1501.6 243.4L1503.5 245.7L1505.3 248L1507.1 250.3L1509 252.7L1510.8 255L1512.7 257.3L1514.5 259.6L1516.4 261.9L1518.2 264.2L1520.1 266.5L1522 268.8L1523.9 271.1L1525.8 273.4L1527.7 275.7L1529.6 278L1531.6 280.3L1533.5 282.6L1535.4 284.9L1537.4 287.2L1539.3 289.5L1541.3 291.7L1543.3 294L1545.2 296.3L1547.2 298.5L1549.2 300.8L1551.2 303L1553.2 305.3L1555.3 307.5L1557.3 309.7L1559.3 312L1561.4 314.2L1563.4 316.4L1565.5 318.6L1567.5 320.8L1569.6 323L1571.7 325.2L1573.8 327.3L1575.9 329.5L1578 331.7L1580.1 333.8L1582.3 336L1584.4 338.1L1586.6 340.2L1588.7 342.3L1590.9 344.4L1593.1 346.5L1595.3 348.6L1597.4 350.6L1599.6 352.7L1601.9 354.8L1604.1 356.8L1606.3 358.8L1608.6 360.8L1610.8 362.8L1613.1 364.8L1615.3 366.8L1617.6 368.7L1619.9 370.7L1622.2 372.6L1624.5 374.6L1626.8 376.5L1629.2 378.4L1631.5 380.3L1633.8 382.1L1636.2 384L1638.5 385.8L1640.9 387.7L1643.3 389.5L1645.7 391.3L1648.1 393.1L1650.5 394.9L1652.9 396.7L1655.3 398.4L1657.8 400.2L1660.2 401.9L1662.6 403.7L1665.1 405.4L1667.6 407.1L1670 408.8L1672.5 410.4L1675 412.1L1677.5 413.8L1680 415.4L1682.5 417L1685 418.7L1687.6 420.3L1690.1 421.9L1692.6 423.5L1695.2 425L1697.7 426.6L1700.3 428.2L1702.9 429.7L1705.5 431.2L1708 432.7L1710.6 434.2L1713.2 435.7L1715.8 437.2L1718.5 438.7L1721.1 440.2L1723.7 441.6L1726.3 443.1L1729 444.5L1731.6 445.9L1734.3 447.3L1736.9 448.7L1739.6 450.1L1742.2 451.5L1744.9 452.8L1747.6 454.2L1750.3 455.5L1753 456.9L1755.7 458.2L1758.4 459.5L1761.1 460.8L1763.8 462.1L1766.5 463.4L1769.2 464.6L1772 465.9L1774.7 467.1L1777.5 468.4L1780.2 469.6L1782.9 470.8L1785.7 472L1788.5 473.2L1791.2 474.4L1794 475.6L1796.8 476.8L1799.6 477.9L1802.3 479.1L1805.1 480.2L1807.9 481.3L1810.7 482.4L1813.5 483.6L1816.3 484.6L1819.1 485.7L1821.9 486.8L1824.8 487.9L1827.6 488.9L1830.4 490L1833.2 491L1836.1 492.1L1838.9 493.1L1841.7 494.1L1844.6 495.1L1847.4 496.1L1850.3 497.1L1853.1 498.1L1856 499L1858.8 500L1861.7 500.9L1864.6 501.9L1867.4 502.8L1870.3 503.7L1873.2 504.6L1876 505.5L1878.9 506.4L1881.8 507.3L1884.7 508.2L1887.6 509L1890.4 509.9L1893.3 510.7L1896.2 511.6L1899.1 512.4L1902 513.2L1904.9 514.1L1907.8 514.9L1910.7 515.7L1913.6 516.5L1916.5 517.2L1919.4 518L1922.3 518.8L1925.2 519.5L1928.1 520.3L1931 521L1934 521.8L1936.9 522.5L1939.8 523.2L1942.7 523.9L1945.6 524.6L1948.6 525.3L1951.5 526L1954.4 526.7L1957.3 527.4L1960.3 528L1963.2 528.7L1966.1 529.4L1969 530L1972 530.7L1974.9 531.3L1977.8 531.9L1980.8 532.6L1983.7 533.2L1986.7 533.8L1989.6 534.4L1992.5 535L1995.5 535.6L1998.4 536.2L2001.4 536.8L2004.3 537.4L2007.3 537.9L2010.2 538.5L2013.2 539.1L2016.1 539.7L2019.1 540.2L2022 540.8L2025 541.3L2027.9 541.9L2030.9 542.4L2033.8 542.9L2036.8 543.5L2039.8 544L2042.7 544.5L2045.7 545L2048.6 545.6L2051.6 546.1L2054.6 546.6L2057.5 547.1L2060.5 547.6L2063.4 548.1L2066.4 548.6L2069.4 549.1L2072.3 549.6L2075.3 550.1L2078.3 550.5L2081.2 551L2084.2 551.5L2087.2 552L2090.1 552.5L2093.1 552.9L2096.1 553.4L2099 553.9L2102 554.3L2105 554.8L2108 555.3L2110.9 555.7L2113.9 556.2L2116.9 556.7L2119.8 557.1L2122.8 557.6L2125.8 558L2128.8 558.5L2131.7 558.9L2134.7 559.4L2137.7 559.8L2140.6 560.3L2143.6 560.7L2146.6 561.2L2149.6 561.6L2152.5 562.1L2155.5 562.5L2158.5 563L2161.5 563.4L2164.4 563.9L2167.4 564.3L2170.4 564.8L2173.3 565.2L2176.3 565.7L2179.3 566.2L2182.3 566.6L2185.2 567.1L2188.2 567.5L2191.2 568L2194.1 568.4L2197.1 568.9L2200.1 569.4L2203 569.8L2206 570.3L2209 570.7L2211.9 571.2L2214.9 571.7L2217.9 572.2L2220.8 572.6L2223.8 573.1L2226.8 573.6L2229.7 574.1L2232.7 574.5L2235.7 575L2238.6 575.5L2241.6 576L2244.5 576.5L2247.5 577L2249 579L2247.5 581L2244.6 581.9L2241.8 582.8L2238.9 583.7L2236 584.5L2233.1 585.4L2230.2 586.1L2227.3 586.9L2224.4 587.6L2221.5 588.4L2218.6 589L2215.7 589.7L2212.8 590.3L2209.8 591L2206.9 591.6L2204 592.1L2201 592.7L2198.1 593.2L2195.2 593.8L2192.2 594.3L2189.3 594.7L2186.3 595.2L2183.4 595.7L2180.4 596.1L2177.4 596.5L2174.5 596.9L2171.5 597.3L2168.5 597.7L2165.6 598L2162.6 598.4L2159.6 598.7L2156.6 599L2153.6 599.3L2150.7 599.6L2147.7 599.9L2144.7 600.2L2141.7 600.5L2138.7 600.8L2135.7 601L2132.7 601.3L2129.7 601.5L2126.7 601.8L2123.7 602L2120.7 602.2L2117.7 602.5L2114.7 602.7L2111.7 602.9L2108.7 603.1L2105.7 603.4L2102.7 603.6L2099.7 603.8L2096.7 604L2093.7 604.3L2090.7 604.5L2087.7 604.7L2084.7 604.9L2081.7 605.2L2078.7 605.4L2075.7 605.7L2072.7 605.9L2069.7 606.2L2066.7 606.4L2063.7 606.7L2060.7 607L2057.7 607.3L2054.7 607.5L2051.7 607.8L2048.7 608.1L2045.7 608.4L2042.7 608.8L2039.7 609.1L2036.7 609.4L2033.7 609.7L2030.7 610.1L2027.8 610.4L2024.8 610.7L2021.8 611.1L2018.8 611.4L2015.8 611.8L2012.8 612.1L2009.8 612.5L2006.8 612.9L2003.9 613.2L2000.9 613.6L1997.9 614L1994.9 614.3L1991.9 614.7L1988.9 615.1L1986 615.5L1983 615.9L1980 616.2L1977 616.6L1974 617L1971 617.4L1968.1 617.8L1965.1 618.2L1962.1 618.6L1959.1 619L1956.1 619.3L1953.2 619.7L1950.2 620.1L1947.2 620.5L1944.2 620.9L1941.2 621.3L1938.3 621.7L1935.3 622.1L1932.3 622.4L1929.3 622.8L1926.3 623.2L1923.3 623.6L1920.4 624L1917.4 624.3L1914.4 624.7L1911.4 625.1L1908.4 625.4L1905.5 625.8L1902.5 626.2L1899.5 626.5L1896.5 626.9L1893.5 627.2L1890.5 627.5L1887.6 627.9L1884.6 628.2L1881.6 628.6L1878.6 628.9L1875.6 629.2L1872.6 629.5L1869.6 629.8L1866.7 630.1L1863.7 630.4L1860.7 630.7L1857.7 631L1854.7 631.3L1851.7 631.6L1848.7 631.8L1845.7 632.1L1842.7 632.3L1839.8 632.6L1836.8 632.8L1833.8 633L1830.8 633.3L1827.8 633.5L1824.8 633.7L1821.8 633.9L1818.8 634.1L1815.8 634.3L1812.8 634.5L1809.8 634.6L1806.8 634.8L1803.8 635L1800.8 635.2L1797.8 635.3L1794.8 635.5L1791.8 635.6L1788.8 635.8L1785.8 635.9L1782.8 636.1L1779.8 636.2L1776.8 636.4L1773.8 636.5L1770.8 636.7L1767.8 636.8L1764.8 636.9L1761.8 637.1L1758.8 637.2L1755.8 637.4L1752.8 637.5L1749.8 637.6L1746.8 637.8L1743.8 637.9L1740.7 638.1L1737.7 638.3L1734.7 638.4L1731.7 638.6L1728.7 638.7L1725.7 638.9L1722.7 639.1L1719.7 639.3L1716.7 639.4L1713.7 639.6L1710.7 639.8L1707.7 640L1704.7 640.2L1701.7 640.4L1698.7 640.7L1695.7 640.9L1692.7 641.1L1689.7 641.4L1686.7 641.6L1683.7 641.9L1680.7 642.1L1677.8 642.4L1674.8 642.7L1671.8 643L1668.8 643.3L1665.8 643.6L1662.8 644L1659.8 644.3L1656.8 644.7L1653.8 645L1650.8 645.4L1647.8 645.8L1644.9 646.2L1641.9 646.6L1638.9 647L1635.9 647.5L1632.9 647.9L1629.9 648.4L1627 648.9L1624 649.4L1621 649.9L1618 650.4L1615.1 651L1612.1 651.6L1609.1 652.1L1606.2 652.7L1603.2 653.4L1600.2 654L1597.3 654.7L1594.3 655.3L1591.4 656L1588.4 656.7L1585.5 657.5L1582.6 658.2L1579.7 659L1576.8 659.8L1573.9 660.6L1571 661.4L1568.1 662.2L1565.2 663.1L1562.3 664L1559.5 664.9L1556.6 665.9L1553.8 666.8L1550.9 667.8L1548.1 668.8L1545.3 669.8L1542.5 670.9L1539.7 671.9L1537 673L1534.2 674.2L1531.5 675.3L1528.7 676.5L1526 677.7L1523.3 678.9L1520.6 680.2L1517.9 681.4L1515.3 682.7L1512.7 684.1L1510 685.4L1507.4 686.8L1504.8 688.2L1502.3 689.6L1499.7 691.1L1497.2 692.6L1494.7 694.1L1492.2 695.7L1489.7 697.2L1487.3 698.9L1484.8 700.5L1482.4 702.2L1480 703.9L1477.7 705.6L1475.3 707.4L1473 709.1L1470.7 711L1468.4 712.8L1466.1 714.7L1463.9 716.6L1461.7 718.5L1459.5 720.5L1457.3 722.4L1455.1 724.4L1453 726.5L1450.9 728.5L1448.8 730.6L1446.7 732.7L1444.6 734.8L1442.5 737L1440.5 739.1L1438.5 741.3L1436.5 743.5L1434.5 745.8L1432.6 748L1430.6 750.3L1428.7 752.6L1426.8 754.9L1424.9 757.2L1423 759.6L1421.2 762L1419.3 764.4L1417.5 766.8L1415.7 769.2L1413.9 771.6L1412.1 774.1L1410.4 776.5L1408.6 779L1406.9 781.5L1405.2 784L1403.5 786.6L1401.8 789.1L1400.2 791.7L1398.5 794.2L1396.9 796.8L1395.2 799.4L1393.6 802L1392 804.6L1390.5 807.2L1388.9 809.9L1387.3 812.5L1385.8 815.2L1384.3 817.8L1382.7 820.5L1381.2 823.2L1379.8 825.9L1378.3 828.5L1376.8 831.2L1375.4 834L1373.9 836.7L1372.5 839.4L1371.1 842.1L1369.7 844.8L1368.3 847.5L1366.9 850.3L1365.5 853L1364.2 855.8L1362.8 858.5L1361.5 861.2L1360.2 864L1358.8 866.7L1357.5 869.5L1356.2 872.2L1354.9 875L1353.7 877.7L1352.4 880.5L1351.1 883.2L1349.9 885.9L1348.6 888.7L1347.4 891.4L1346.2 894.2L1345 896.9L1343.8 899.7L1342.6 902.4L1341.4 905.2L1340.2 907.9L1339 910.7L1337.8 913.4L1336.7 916.2L1335.5 918.9L1334.4 921.7L1333.2 924.5L1332.1 927.2L1331 930L1329.8 932.7L1328.7 935.5L1327.6 938.2L1326.5 941L1325.4 943.8L1324.3 946.5L1323.2 949.3L1322.1 952L1321.1 954.8L1320 957.6L1318.9 960.3L1317.9 963.1L1316.8 965.9L1315.7 968.6L1314.7 971.4L1313.6 974.2L1312.6 976.9L1311.5 979.7L1310.5 982.5L1309.4 985.2L1308.4 988L1307.4 990.8L1306.3 993.6L1305.3 996.3L1304.3 999.1L1303.3 1001.9L1302.2 1004.7L1301.2 1007.5L1300.2 1010.3L1299.2 1013L1298.1 1015.8L1297.1 1018.6L1296.1 1021.4L1295.1 1024.2L1294.1 1027L1293 1029.8L1292 1032.6L1291 1035.4L1290 1038.2L1289 1041L1287.9 1043.8L1286.9 1046.6L1285.9 1049.4L1284.9 1052.2L1283.8 1055L1282.8 1057.8L1281.8 1060.6L1280.8 1063.4L1279.7 1066.2L1278.7 1069.1L1277.6 1071.9L1276.6 1074.7L1275.6 1077.5L1274.5 1080.3L1273.5 1083.2L1272.4 1086L1271.3 1088.8L1270.3 1091.6L1269.2 1094.5L1268.1 1097.3L1267.1 1100.2L1266 1103L1264.9 1105.8L1263.8 1108.7L1262.8 1111.5L1261.7 1114.3L1260.6 1117.2L1259.5 1120L1258.4 1122.9L1257.3 1125.7L1256.2 1128.6L1255.2 1131.4L1254.1 1134.2L1253 1137.1L1251.9 1139.9L1250.8 1142.8L1249.7 1145.6L1248.6 1148.5L1247.5 1151.3L1246.4 1154.1L1245.4 1157L1244.3 1159.8L1243.2 1162.7L1242.1 1165.5L1241 1168.3L1240 1171.2L1238.9 1174L1237.8 1176.8L1236.7 1179.6L1235.7 1182.5L1234.6 1185.3L1233.6 1188.1L1232.5 1190.9L1231.5 1193.8L1230.4 1196.6L1229.4 1199.4L1228.3 1202.2L1227.3 1205L1226.3 1207.8L1225.2 1210.6L1224.2 1213.4L1223.2 1216.2L1222.2 1219L1221.1 1221.8L1220.1 1224.6L1219.1 1227.4L1218.1 1230.1L1217 1232.9L1216 1235.7L1215 1238.5L1213.9 1241.2L1212.9 1244L1211.8 1246.7L1210.8 1249.5L1209.7 1252.2L1208.6 1255L1207.5 1257.7L1206.4 1260.5L1205.2 1263.2L1204.1 1265.9L1202.9 1268.7L1201.8 1271.4L1200.6 1274.1L1199.4 1276.8L1198.1 1279.5L1196.9 1282.2L1195.6 1284.9L1194.3 1287.6L1193 1290.3L1191.7 1293L1190.3 1295.7L1188.9 1298.3L1187.5 1301L1186.1 1303.7L1184.6 1306.3L1183.1 1309L1181.5 1311.6L1180 1314.3L1178.4 1316.9L1176.8 1319.6L1175.1 1322.2L1173.4 1324.8L1171.7 1327.4L1169.9 1330L1168.1 1332.6L1166.2 1335.2L1164.3 1337.7L1162.4 1340.3L1160.4 1342.7L1158.4 1345.1L1156.3 1347.5L1154.2 1349.7L1152 1351.9L1149.8 1354L1147.5 1356L1145.2 1357.9L1142.8 1359.6L1140.3 1361.2L1137.8 1362.7L1135.2 1364L1132.5 1365.2L1129.8 1366.2L1127 1367.1L1124.2 1367.8L1121.3 1368.3L1118.4 1368.7L1115.5 1368.9L1112.6 1368.9L1109.7 1368.8L1106.7 1368.6L1103.8 1368.1L1101 1367.6L1098.1 1366.8L1095.3 1365.9L1092.6 1364.9L1089.9 1363.7L1087.3 1362.4L1084.8 1360.9L1082.3 1359.3L1079.9 1357.5L1077.5 1355.7L1075.2 1353.7L1072.9 1351.7L1070.6 1349.6L1068.4 1347.4L1066.3 1345.1L1064.2 1342.8L1062.1 1340.4L1060 1338L1057.9 1335.5L1055.9 1333L1053.9 1330.6L1051.9 1328.1L1049.9 1325.6L1048 1323.1L1046 1320.7L1044 1318.2L1042.1 1315.8L1040.1 1313.4L1038.1 1311.1L1036.2 1308.7L1034.2 1306.4L1032.3 1304L1030.4 1301.7L1028.4 1299.4L1026.5 1297.1L1024.5 1294.9L1022.6 1292.6L1020.7 1290.3L1018.7 1288.1L1016.8 1285.9L1014.8 1283.6L1012.9 1281.4L1011 1279.2L1009 1277L1007.1 1274.8L1005.1 1272.6L1003.2 1270.4L1001.2 1268.3L999.3 1266.1L997.3 1263.9L995.3 1261.7L993.4 1259.6L991.4 1257.4L989.4 1255.2L987.4 1253.1L985.4 1250.9L983.4 1248.7L981.4 1246.6L979.4 1244.4L977.3 1242.2L975.3 1240L973.3 1237.9L971.2 1235.7L969.2 1233.5L967.1 1231.4L965.1 1229.2L963 1227.1L960.9 1224.9L958.8 1222.8L956.7 1220.6L954.6 1218.5L952.5 1216.3L950.4 1214.2L948.3 1212L946.2 1209.9L944 1207.8L941.9 1205.7L939.7 1203.5L937.6 1201.4L935.4 1199.3L933.2 1197.2L931.1 1195.1L928.9 1193.1L926.7 1191L924.5 1188.9L922.2 1186.8L920 1184.8L917.8 1182.7L915.6 1180.7L913.3 1178.7L911.1 1176.6L908.8 1174.6L906.5 1172.6L904.3 1170.6L902 1168.6L899.7 1166.7L897.4 1164.7L895.1 1162.8L892.8 1160.8L890.4 1158.9L888.1 1157L885.7 1155L883.4 1153.2L881 1151.3L878.7 1149.4L876.3 1147.5L873.9 1145.7L871.5 1143.9L869.1 1142L866.7 1140.2L864.3 1138.4L861.8 1136.7L859.4 1134.9L856.9 1133.2L854.5 1131.4L852 1129.7L849.5 1128L847 1126.3L844.6 1124.7L842 1123L839.5 1121.4L837 1119.7L834.5 1118.1L831.9 1116.5L829.4 1114.9L826.8 1113.4L824.3 1111.8L821.7 1110.3L819.1 1108.8L816.5 1107.3L813.9 1105.8L811.3 1104.3L808.7 1102.8L806.1 1101.4L803.5 1099.9L800.9 1098.5L798.2 1097.1L795.6 1095.7L792.9 1094.3L790.3 1092.9L787.6 1091.6L784.9 1090.2L782.2 1088.9L779.5 1087.5L776.8 1086.2L774.1 1084.9L771.4 1083.7L768.7 1082.4L766 1081.1L763.3 1079.9L760.6 1078.6L757.8 1077.4L755.1 1076.2L752.3 1075L749.6 1073.8L746.8 1072.6L744 1071.5L741.3 1070.3L738.5 1069.1L735.7 1068L732.9 1066.9L730.1 1065.8L727.4 1064.7L724.6 1063.6L721.8 1062.5L718.9 1061.4L716.1 1060.4L713.3 1059.3L710.5 1058.3L707.7 1057.2L704.8 1056.2L702 1055.2L699.2 1054.2L696.3 1053.2L693.5 1052.2L690.6 1051.2L687.8 1050.3L684.9 1049.3L682.1 1048.4L679.2 1047.4L676.4 1046.5L673.5 1045.6L670.6 1044.7L667.8 1043.8L664.9 1042.9L662 1042L659.1 1041.1L656.3 1040.2L653.4 1039.4L650.5 1038.5L647.6 1037.7L644.7 1036.8L641.8 1036L638.9 1035.1L636 1034.3L633.1 1033.5L630.2 1032.7L627.3 1031.9L624.4 1031.1L621.5 1030.3L618.6 1029.6L615.7 1028.8L612.8 1028L609.9 1027.3L607 1026.5L604.1 1025.8L601.2 1025L598.3 1024.3L595.4 1023.6L592.4 1022.8L589.5 1022.1L586.6 1021.4L583.7 1020.7L580.8 1020L577.8 1019.3L574.9 1018.6L572 1018L569.1 1017.3L566.1 1016.6L563.2 1016L560.3 1015.3L557.3 1014.6L554.4 1014L551.5 1013.3L548.5 1012.7L545.6 1012.1L542.7 1011.4L539.7 1010.8L536.8 1010.2L533.8 1009.6L530.9 1009L528 1008.4L525 1007.8L522.1 1007.2L519.1 1006.6L516.2 1006L513.2 1005.4L510.3 1004.8L507.3 1004.2L504.4 1003.7L501.4 1003.1L498.5 1002.5L495.5 1002L492.6 1001.4L489.6 1000.9L486.7 1000.3L483.7 999.8L480.8 999.2L477.8 998.7L474.9 998.1L471.9 997.6L468.9 997.1L466 996.5L463 996L460.1 995.5L457.1 995L454.2 994.4L451.2 993.9L448.2 993.4L445.3 992.9L442.3 992.4L439.3 991.9L436.4 991.4L433.4 990.9L430.4 990.4L427.5 989.9L424.5 989.4L421.6 988.9L418.6 988.4L415.6 987.9L412.7 987.4L409.7 986.9L406.7 986.4L403.8 986L400.8 985.5L397.8 985L394.9 984.5L391.9 984L388.9 983.5L386 983.1L383 982.6L380 982.1L377.1 981.6L374.1 981.1L371.1 980.7L368.1 980.2L365.2 979.7L362.2 979.2L359.2 978.8L356.3 978.3L353.3 977.8L350.3 977.3L347.4 976.9L344.4 976.4L341.4 975.9L338.5 975.4L335.5 975L332.5 974.5L329.6 974L326.6 973.5L323.6 973L320.7 972.6L317.7 972.1L314.7 971.6L311.8 971.1L308.8 970.6L305.9 970.2L302.9 969.7L299.9 969.2L297 968.7L294 968.2Z"/>
</g>
<g stroke="#000" stroke-width="5.5" fill="none">
<rect x="289" y="35.5" width="1964" height="1440.8"/>
<line x1="271" y1="1476" x2="289" y2="1476"/>
<line x1="256" y1="1376.8" x2="289" y2="1376.8"/>
<line x1="271" y1="1277.5" x2="289" y2="1277.5"/>
<line x1="256" y1="1178.2" x2="289" y2="1178.2"/>
<line x1="271" y1="1078.9" x2="289" y2="1078.9"/>
<line x1="256" y1="979.6" x2="289" y2="979.6"/>
<line x1="271" y1="880.3" x2="289" y2="880.3"/>
<line x1="256" y1="781" x2="289" y2="781"/>
<line x1="271" y1="681.7" x2="289" y2="681.7"/>
<line x1="256" y1="582.4" x2="289" y2="582.4"/>
<line x1="271" y1="483.1" x2="289" y2="483.1"/>
<line x1="256" y1="383.8" x2="289" y2="383.8"/>
<line x1="271" y1="284.5" x2="289" y2="284.5"/>
<line x1="256" y1="185.2" x2="289" y2="185.2"/>
<line x1="271" y1="86" x2="289" y2="86"/>
<line x1="289" y1="1476.3" x2="289" y2="1507.3"/>
<line x1="534.5" y1="1476.3" x2="534.5" y2="1494.8"/>
<line x1="780" y1="1476.3" x2="780" y2="1507.3"/>
<line x1="1025.5" y1="1476.3" x2="1025.5" y2="1494.8"/>
<line x1="1271" y1="1476.3" x2="1271" y2="1507.3"/>
<line x1="1516.5" y1="1476.3" x2="1516.5" y2="1494.8"/>
<line x1="1762" y1="1476.3" x2="1762" y2="1507.3"/>
<line x1="2007.5" y1="1476.3" x2="2007.5" y2="1494.8"/>
<line x1="2253" y1="1476.3" x2="2253" y2="1507.3"/>
</g>
<g font-family="&quot;Liberation Serif&quot;, &quot;Times New Roman&quot;, serif" font-weight="bold" fill="#000">
<text x="242" y="1398.3" font-size="79" text-anchor="end">-120</text>
<text x="242" y="1199.7" font-size="79" text-anchor="end">-80</text>
<text x="242" y="1001.1" font-size="79" text-anchor="end">-40</text>
<text x="242" y="802.5" font-size="79" text-anchor="end">0</text>
<text x="242" y="603.9" font-size="79" text-anchor="end">40</text>
<text x="242" y="405.3" font-size="79" text-anchor="end">80</text>
<text x="242" y="206.7" font-size="79" text-anchor="end">120</text>
<text x="289" y="1586" font-size="79" text-anchor="middle">-0.2</text>
<text x="780" y="1586" font-size="79" text-anchor="middle">0.0</text>
<text x="1271" y="1586" font-size="79" text-anchor="middle">0.2</text>
<text x="1762" y="1586" font-size="79" text-anchor="middle">0.4</text>
<text x="2253" y="1586" font-size="79" text-anchor="middle">0.6</text>
<text x="1271" y="1720.5" font-size="103" text-anchor="middle">E / V</text>
<text transform="translate(88,778) rotate(-90)" font-size="103" text-anchor="middle"><tspan font-style="italic">i</tspan> / μA</text>
<line x1="1658" y1="122.7" x2="1799" y2="122.7" stroke="#000000" stroke-width="9.5"/>
<line x1="1658" y1="195.3" x2="1799" y2="195.3" stroke="#e8101a" stroke-width="9.5"/>
<line x1="1658" y1="267.5" x2="1799" y2="267.5" stroke="#0000c8" stroke-width="9.5"/>
<line x1="1658" y1="339.8" x2="1799" y2="339.8" stroke="#007f7f" stroke-width="9.5"/>
<text x="1808" y="143.4" font-size="53">GCE</text>
<text x="1808" y="216" font-size="53">GO/GCE</text>
<text x="1808" y="288.2" font-size="53">ErGO/GCE</text>
<text x="1808" y="360.5" font-size="53">Ta<tspan font-size="35" dy="22">2</tspan><tspan dy="-22">O</tspan><tspan font-size="35" dy="22">5</tspan><tspan dy="-22">-ErGO/GCE</tspan></text>
</g>
</g>
</svg>
</body></html>
